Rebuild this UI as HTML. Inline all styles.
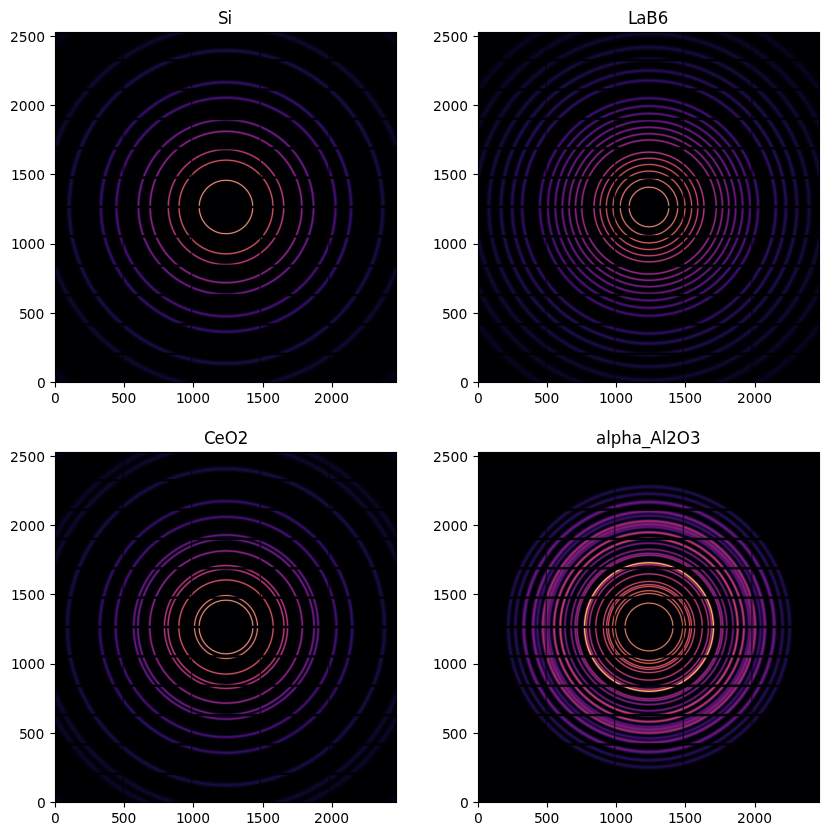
<!DOCTYPE html>
<html lang="en"><head><meta charset="utf-8"><title>Calibrant rings</title>
<style>html,body{margin:0;padding:0;background:#fff}svg{display:block}text{font-family:"DejaVu Sans","Liberation Sans",sans-serif;font-size:13.8889px;fill:#000}</style></head><body>
<svg width="828" height="836" viewBox="0 0 828 836">
<defs>
<radialGradient id="g0" gradientUnits="userSpaceOnUse" cx="0" cy="0" r="1800" gradientTransform="translate(226 207) scale(0.138855 0.138504)">
<stop offset="0" stop-color="#000003"/>
<stop offset=".1" stop-color="#000003"/>
<stop offset=".10083" stop-color="#010006"/>
<stop offset=".10153" stop-color="#04010b"/>
<stop offset=".10194" stop-color="#090311"/>
<stop offset=".10236" stop-color="#100517"/>
<stop offset=".10278" stop-color="#1b091e"/>
<stop offset=".10319" stop-color="#290f25"/>
<stop offset=".10361" stop-color="#3b192d"/>
<stop offset=".10403" stop-color="#502635"/>
<stop offset=".10444" stop-color="#66373d"/>
<stop offset=".10514" stop-color="#8e5748"/>
<stop offset=".10556" stop-color="#a56a4d"/>
<stop offset=".10597" stop-color="#b87b51"/>
<stop offset=".10625" stop-color="#c38552"/>
<stop offset=".10653" stop-color="#cb8c54"/>
<stop offset=".10681" stop-color="#d09054"/>
<stop offset=".10708" stop-color="#d29255"/>
<stop offset=".10736" stop-color="#d19154"/>
<stop offset=".10764" stop-color="#cc8d54"/>
<stop offset=".10792" stop-color="#c58753"/>
<stop offset=".10819" stop-color="#bb7e51"/>
<stop offset=".10861" stop-color="#a86d4e"/>
<stop offset=".10917" stop-color="#8a5448"/>
<stop offset=".10986" stop-color="#63343c"/>
<stop offset=".11028" stop-color="#4c2434"/>
<stop offset=".11069" stop-color="#38172c"/>
<stop offset=".11111" stop-color="#260e24"/>
<stop offset=".11153" stop-color="#19081d"/>
<stop offset=".11194" stop-color="#0f0416"/>
<stop offset=".11236" stop-color="#080210"/>
<stop offset=".11292" stop-color="#030109"/>
<stop offset=".11361" stop-color="#010005"/>
<stop offset=".11472" stop-color="#000003"/>
<stop offset=".17972" stop-color="#000003"/>
<stop offset=".18083" stop-color="#010005"/>
<stop offset=".18153" stop-color="#020109"/>
<stop offset=".18208" stop-color="#06020f"/>
<stop offset=".18264" stop-color="#0c0418"/>
<stop offset=".18306" stop-color="#140620"/>
<stop offset=".18347" stop-color="#1f0928"/>
<stop offset=".18389" stop-color="#2d0d30"/>
<stop offset=".18431" stop-color="#3f1337"/>
<stop offset=".18486" stop-color="#5a1e3d"/>
<stop offset=".18528" stop-color="#702840"/>
<stop offset=".18583" stop-color="#8d373f"/>
<stop offset=".18625" stop-color="#a2423d"/>
<stop offset=".18667" stop-color="#b44b3a"/>
<stop offset=".18694" stop-color="#be5037"/>
<stop offset=".18722" stop-color="#c65536"/>
<stop offset=".1875" stop-color="#ca5735"/>
<stop offset=".18778" stop-color="#cd5834"/>
<stop offset=".18806" stop-color="#cc5834"/>
<stop offset=".18833" stop-color="#c95635"/>
<stop offset=".18861" stop-color="#c35337"/>
<stop offset=".18889" stop-color="#ba4f38"/>
<stop offset=".18931" stop-color="#aa463c"/>
<stop offset=".18972" stop-color="#963c3f"/>
<stop offset=".19028" stop-color="#792d40"/>
<stop offset=".19069" stop-color="#63233f"/>
<stop offset=".19111" stop-color="#4d193c"/>
<stop offset=".19153" stop-color="#3a1236"/>
<stop offset=".19194" stop-color="#2a0c2f"/>
<stop offset=".19236" stop-color="#1d0827"/>
<stop offset=".19278" stop-color="#12051e"/>
<stop offset=".19319" stop-color="#0b0317"/>
<stop offset=".19375" stop-color="#05020e"/>
<stop offset=".19444" stop-color="#010108"/>
<stop offset=".19528" stop-color="#000004"/>
<stop offset=".19694" stop-color="#000003"/>
<stop offset=".2225" stop-color="#000003"/>
<stop offset=".22361" stop-color="#010006"/>
<stop offset=".22431" stop-color="#03010b"/>
<stop offset=".225" stop-color="#070313"/>
<stop offset=".22556" stop-color="#0f041d"/>
<stop offset=".22597" stop-color="#170626"/>
<stop offset=".22639" stop-color="#21092f"/>
<stop offset=".22681" stop-color="#2e0c38"/>
<stop offset=".22722" stop-color="#3e1140"/>
<stop offset=".22778" stop-color="#561848"/>
<stop offset=".22833" stop-color="#6f214d"/>
<stop offset=".22889" stop-color="#892a4f"/>
<stop offset=".22931" stop-color="#9b314f"/>
<stop offset=".22972" stop-color="#a9374d"/>
<stop offset=".23014" stop-color="#b43b4c"/>
<stop offset=".23042" stop-color="#b93d4b"/>
<stop offset=".23069" stop-color="#bb3e4b"/>
<stop offset=".23097" stop-color="#bb3e4b"/>
<stop offset=".23125" stop-color="#b93d4b"/>
<stop offset=".23153" stop-color="#b43b4c"/>
<stop offset=".23194" stop-color="#aa374e"/>
<stop offset=".23236" stop-color="#9b314f"/>
<stop offset=".23292" stop-color="#84284f"/>
<stop offset=".23347" stop-color="#6a1f4d"/>
<stop offset=".23403" stop-color="#501747"/>
<stop offset=".23458" stop-color="#39103e"/>
<stop offset=".235" stop-color="#2a0b36"/>
<stop offset=".23542" stop-color="#1e082d"/>
<stop offset=".23583" stop-color="#140624"/>
<stop offset=".23625" stop-color="#0d041b"/>
<stop offset=".23681" stop-color="#070212"/>
<stop offset=".2375" stop-color="#02010a"/>
<stop offset=".23819" stop-color="#010006"/>
<stop offset=".23931" stop-color="#000003"/>
<stop offset=".29375" stop-color="#000003"/>
<stop offset=".29486" stop-color="#000005"/>
<stop offset=".29583" stop-color="#010109"/>
<stop offset=".29653" stop-color="#04020e"/>
<stop offset=".29722" stop-color="#080318"/>
<stop offset=".29792" stop-color="#100524"/>
<stop offset=".29847" stop-color="#1a0730"/>
<stop offset=".29903" stop-color="#260a3d"/>
<stop offset=".29972" stop-color="#390e4c"/>
<stop offset=".30042" stop-color="#4f1358"/>
<stop offset=".30111" stop-color="#661860"/>
<stop offset=".30181" stop-color="#791e64"/>
<stop offset=".30222" stop-color="#832065"/>
<stop offset=".30264" stop-color="#8a2365"/>
<stop offset=".30306" stop-color="#8e2465"/>
<stop offset=".30347" stop-color="#902465"/>
<stop offset=".30389" stop-color="#8e2465"/>
<stop offset=".30431" stop-color="#892265"/>
<stop offset=".30472" stop-color="#822065"/>
<stop offset=".30528" stop-color="#741c63"/>
<stop offset=".30597" stop-color="#5f175e"/>
<stop offset=".30667" stop-color="#491155"/>
<stop offset=".30736" stop-color="#340d48"/>
<stop offset=".30806" stop-color="#220939"/>
<stop offset=".30861" stop-color="#17072d"/>
<stop offset=".30917" stop-color="#0e0521"/>
<stop offset=".30986" stop-color="#070316"/>
<stop offset=".31056" stop-color="#03020d"/>
<stop offset=".31125" stop-color="#010108"/>
<stop offset=".31222" stop-color="#000004"/>
<stop offset=".31389" stop-color="#000003"/>
<stop offset=".34" stop-color="#000004"/>
<stop offset=".34111" stop-color="#000005"/>
<stop offset=".34208" stop-color="#010109"/>
<stop offset=".34292" stop-color="#040210"/>
<stop offset=".34361" stop-color="#080419"/>
<stop offset=".34431" stop-color="#0f0525"/>
<stop offset=".345" stop-color="#180733"/>
<stop offset=".34569" stop-color="#250942"/>
<stop offset=".34667" stop-color="#3b0d55"/>
<stop offset=".34736" stop-color="#4c115f"/>
<stop offset=".34806" stop-color="#5c1466"/>
<stop offset=".34875" stop-color="#69176a"/>
<stop offset=".34931" stop-color="#70196b"/>
<stop offset=".34986" stop-color="#741b6c"/>
<stop offset=".35042" stop-color="#751b6c"/>
<stop offset=".35097" stop-color="#711a6b"/>
<stop offset=".35153" stop-color="#6b186a"/>
<stop offset=".35222" stop-color="#5e1567"/>
<stop offset=".35292" stop-color="#4f1161"/>
<stop offset=".35361" stop-color="#3e0e57"/>
<stop offset=".35444" stop-color="#2b0b48"/>
<stop offset=".35528" stop-color="#1b0836"/>
<stop offset=".35597" stop-color="#110628"/>
<stop offset=".35667" stop-color="#09041c"/>
<stop offset=".35736" stop-color="#050312"/>
<stop offset=".35819" stop-color="#02010b"/>
<stop offset=".35917" stop-color="#010006"/>
<stop offset=".36028" stop-color="#000004"/>
<stop offset=".36583" stop-color="#000003"/>
<stop offset=".42583" stop-color="#000003"/>
<stop offset=".4275" stop-color="#000005"/>
<stop offset=".42861" stop-color="#010108"/>
<stop offset=".42972" stop-color="#03020f"/>
<stop offset=".43069" stop-color="#060417"/>
<stop offset=".43167" stop-color="#0c0624"/>
<stop offset=".43278" stop-color="#160835"/>
<stop offset=".43389" stop-color="#240a48"/>
<stop offset=".435" stop-color="#330a58"/>
<stop offset=".43583" stop-color="#3d0b61"/>
<stop offset=".43667" stop-color="#460c67"/>
<stop offset=".4375" stop-color="#4b0c6a"/>
<stop offset=".43833" stop-color="#4d0c6b"/>
<stop offset=".43917" stop-color="#4b0c6a"/>
<stop offset=".44" stop-color="#450c66"/>
<stop offset=".44083" stop-color="#3c0b60"/>
<stop offset=".44181" stop-color="#300a55"/>
<stop offset=".44292" stop-color="#210945"/>
<stop offset=".44403" stop-color="#140832"/>
<stop offset=".44514" stop-color="#0b0622"/>
<stop offset=".44611" stop-color="#060316"/>
<stop offset=".44708" stop-color="#03020e"/>
<stop offset=".44819" stop-color="#010108"/>
<stop offset=".44931" stop-color="#000005"/>
<stop offset=".45153" stop-color="#000003"/>
<stop offset=".48653" stop-color="#000003"/>
<stop offset=".48875" stop-color="#000006"/>
<stop offset=".48986" stop-color="#01010a"/>
<stop offset=".49097" stop-color="#03020f"/>
<stop offset=".49208" stop-color="#060417"/>
<stop offset=".49319" stop-color="#0a0622"/>
<stop offset=".49431" stop-color="#11082f"/>
<stop offset=".49597" stop-color="#1f0a45"/>
<stop offset=".49708" stop-color="#280a51"/>
<stop offset=".49819" stop-color="#300a5a"/>
<stop offset=".49917" stop-color="#35095f"/>
<stop offset=".50014" stop-color="#370961"/>
<stop offset=".50111" stop-color="#360960"/>
<stop offset=".50222" stop-color="#310a5b"/>
<stop offset=".50333" stop-color="#2a0a53"/>
<stop offset=".50444" stop-color="#200a47"/>
<stop offset=".50611" stop-color="#130932"/>
<stop offset=".50722" stop-color="#0c0725"/>
<stop offset=".50833" stop-color="#07041a"/>
<stop offset=".50944" stop-color="#030211"/>
<stop offset=".51056" stop-color="#02010b"/>
<stop offset=".51167" stop-color="#010007"/>
<stop offset=".51333" stop-color="#000004"/>
<stop offset=".51722" stop-color="#000003"/>
<stop offset=".61" stop-color="#000003"/>
<stop offset=".61278" stop-color="#000005"/>
<stop offset=".615" stop-color="#01010a"/>
<stop offset=".61722" stop-color="#030212"/>
<stop offset=".62" stop-color="#090620"/>
<stop offset=".62333" stop-color="#130a33"/>
<stop offset=".625" stop-color="#170b3a"/>
<stop offset=".62667" stop-color="#190b3e"/>
<stop offset=".62778" stop-color="#190b3f"/>
<stop offset=".62944" stop-color="#180b3c"/>
<stop offset=".63111" stop-color="#140a36"/>
<stop offset=".63611" stop-color="#06041a"/>
<stop offset=".63833" stop-color="#030210"/>
<stop offset=".64056" stop-color="#010109"/>
<stop offset=".64278" stop-color="#000005"/>
<stop offset=".64667" stop-color="#000003"/>
<stop offset=".705" stop-color="#000003"/>
<stop offset=".70944" stop-color="#010007"/>
<stop offset=".71222" stop-color="#02010c"/>
<stop offset=".71667" stop-color="#050419"/>
<stop offset=".72111" stop-color="#0c0726"/>
<stop offset=".72389" stop-color="#0e082b"/>
<stop offset=".72611" stop-color="#0e082b"/>
<stop offset=".72833" stop-color="#0d0828"/>
<stop offset=".73167" stop-color="#080620"/>
<stop offset=".73722" stop-color="#02020f"/>
<stop offset=".74" stop-color="#010109"/>
<stop offset=".74389" stop-color="#000005"/>
<stop offset=".74889" stop-color="#000003"/>
<stop offset=".92111" stop-color="#000003"/>
<stop offset=".93" stop-color="#010007"/>
<stop offset=".93556" stop-color="#01010c"/>
<stop offset=".94167" stop-color="#030212"/>
<stop offset=".94667" stop-color="#040314"/>
<stop offset=".95389" stop-color="#040314"/>
<stop offset=".96111" stop-color="#02010e"/>
<stop offset=".96833" stop-color="#010007"/>
<stop offset=".97833" stop-color="#000004"/>
<stop offset="1" stop-color="#000003"/>
</radialGradient>
<radialGradient id="g1" gradientUnits="userSpaceOnUse" cx="0" cy="0" r="1800" gradientTransform="translate(649 207) scale(0.138855 0.138504)">
<stop offset="0" stop-color="#000003"/>
<stop offset=".07222" stop-color="#000003"/>
<stop offset=".07319" stop-color="#010005"/>
<stop offset=".07389" stop-color="#04010a"/>
<stop offset=".07431" stop-color="#08020f"/>
<stop offset=".07472" stop-color="#0f0415"/>
<stop offset=".07514" stop-color="#19081c"/>
<stop offset=".07556" stop-color="#270f23"/>
<stop offset=".07597" stop-color="#39192b"/>
<stop offset=".07639" stop-color="#4d2633"/>
<stop offset=".07681" stop-color="#64373c"/>
<stop offset=".0775" stop-color="#8c5647"/>
<stop offset=".07792" stop-color="#a2694c"/>
<stop offset=".07833" stop-color="#b67950"/>
<stop offset=".07861" stop-color="#c08252"/>
<stop offset=".07889" stop-color="#c78853"/>
<stop offset=".07917" stop-color="#cc8c54"/>
<stop offset=".07944" stop-color="#cd8d54"/>
<stop offset=".07972" stop-color="#cb8b54"/>
<stop offset=".08" stop-color="#c68753"/>
<stop offset=".08028" stop-color="#be8051"/>
<stop offset=".08056" stop-color="#b47750"/>
<stop offset=".08097" stop-color="#a0674c"/>
<stop offset=".08153" stop-color="#814d44"/>
<stop offset=".08208" stop-color="#61343b"/>
<stop offset=".0825" stop-color="#4b2433"/>
<stop offset=".08292" stop-color="#36172a"/>
<stop offset=".08333" stop-color="#250e23"/>
<stop offset=".08375" stop-color="#18081b"/>
<stop offset=".08417" stop-color="#0e0415"/>
<stop offset=".08458" stop-color="#07020f"/>
<stop offset=".08514" stop-color="#030109"/>
<stop offset=".08583" stop-color="#000005"/>
<stop offset=".08694" stop-color="#000003"/>
<stop offset=".1075" stop-color="#000003"/>
<stop offset=".10847" stop-color="#010005"/>
<stop offset=".10917" stop-color="#03010a"/>
<stop offset=".10972" stop-color="#080210"/>
<stop offset=".11014" stop-color="#0f0417"/>
<stop offset=".11056" stop-color="#19081e"/>
<stop offset=".11097" stop-color="#260d25"/>
<stop offset=".11139" stop-color="#37152c"/>
<stop offset=".11181" stop-color="#4b2032"/>
<stop offset=".11222" stop-color="#622e37"/>
<stop offset=".11278" stop-color="#81433b"/>
<stop offset=".11333" stop-color="#a0593c"/>
<stop offset=".11375" stop-color="#b3673c"/>
<stop offset=".11403" stop-color="#be6f3c"/>
<stop offset=".11431" stop-color="#c6753c"/>
<stop offset=".11458" stop-color="#cb793b"/>
<stop offset=".11486" stop-color="#ce7b3b"/>
<stop offset=".11514" stop-color="#cd7a3b"/>
<stop offset=".11542" stop-color="#c9773c"/>
<stop offset=".11569" stop-color="#c2723c"/>
<stop offset=".11597" stop-color="#b86b3c"/>
<stop offset=".11639" stop-color="#a65d3d"/>
<stop offset=".11694" stop-color="#88483c"/>
<stop offset=".1175" stop-color="#683238"/>
<stop offset=".11792" stop-color="#522434"/>
<stop offset=".11833" stop-color="#3d182e"/>
<stop offset=".11875" stop-color="#2b0f27"/>
<stop offset=".11917" stop-color="#1c0920"/>
<stop offset=".11958" stop-color="#110519"/>
<stop offset=".12" stop-color="#0a0312"/>
<stop offset=".12042" stop-color="#05020d"/>
<stop offset=".12111" stop-color="#010107"/>
<stop offset=".12194" stop-color="#000004"/>
<stop offset=".12694" stop-color="#000003"/>
<stop offset=".13639" stop-color="#000003"/>
<stop offset=".1375" stop-color="#010005"/>
<stop offset=".13819" stop-color="#03010a"/>
<stop offset=".13875" stop-color="#070210"/>
<stop offset=".13917" stop-color="#0d0417"/>
<stop offset=".13958" stop-color="#16061e"/>
<stop offset=".14" stop-color="#220a26"/>
<stop offset=".14042" stop-color="#32102d"/>
<stop offset=".14083" stop-color="#441932"/>
<stop offset=".14139" stop-color="#612738"/>
<stop offset=".14194" stop-color="#803939"/>
<stop offset=".1425" stop-color="#9f4b37"/>
<stop offset=".14292" stop-color="#b25735"/>
<stop offset=".14319" stop-color="#bd5d33"/>
<stop offset=".14347" stop-color="#c56232"/>
<stop offset=".14375" stop-color="#ca6631"/>
<stop offset=".14403" stop-color="#cd6731"/>
<stop offset=".14431" stop-color="#cd6731"/>
<stop offset=".14458" stop-color="#c96531"/>
<stop offset=".14486" stop-color="#c36133"/>
<stop offset=".14514" stop-color="#ba5b34"/>
<stop offset=".14556" stop-color="#a85036"/>
<stop offset=".14597" stop-color="#934438"/>
<stop offset=".14653" stop-color="#743239"/>
<stop offset=".14708" stop-color="#552136"/>
<stop offset=".1475" stop-color="#411732"/>
<stop offset=".14792" stop-color="#2e0f2c"/>
<stop offset=".14833" stop-color="#1f0924"/>
<stop offset=".14875" stop-color="#14061d"/>
<stop offset=".14917" stop-color="#0c0315"/>
<stop offset=".14958" stop-color="#06020f"/>
<stop offset=".15014" stop-color="#020109"/>
<stop offset=".15083" stop-color="#010005"/>
<stop offset=".15194" stop-color="#000003"/>
<stop offset=".16306" stop-color="#000004"/>
<stop offset=".16389" stop-color="#010006"/>
<stop offset=".16458" stop-color="#03010b"/>
<stop offset=".16514" stop-color="#080212"/>
<stop offset=".16556" stop-color="#0e0419"/>
<stop offset=".16597" stop-color="#160620"/>
<stop offset=".16639" stop-color="#220a29"/>
<stop offset=".16681" stop-color="#310f30"/>
<stop offset=".16722" stop-color="#431637"/>
<stop offset=".16778" stop-color="#5f223c"/>
<stop offset=".16833" stop-color="#7d303e"/>
<stop offset=".16889" stop-color="#9a3e3d"/>
<stop offset=".16931" stop-color="#ad473a"/>
<stop offset=".16958" stop-color="#b74d39"/>
<stop offset=".16986" stop-color="#c05137"/>
<stop offset=".17014" stop-color="#c55436"/>
<stop offset=".17042" stop-color="#c85636"/>
<stop offset=".17069" stop-color="#c85636"/>
<stop offset=".17097" stop-color="#c65436"/>
<stop offset=".17125" stop-color="#c05137"/>
<stop offset=".17153" stop-color="#b84d39"/>
<stop offset=".17194" stop-color="#a8453b"/>
<stop offset=".17236" stop-color="#943b3e"/>
<stop offset=".17292" stop-color="#772c3f"/>
<stop offset=".17347" stop-color="#591f3c"/>
<stop offset=".17403" stop-color="#3e1436"/>
<stop offset=".17444" stop-color="#2d0d2f"/>
<stop offset=".17486" stop-color="#1f0927"/>
<stop offset=".17528" stop-color="#14061f"/>
<stop offset=".17569" stop-color="#0c0317"/>
<stop offset=".17625" stop-color="#05020f"/>
<stop offset=".17681" stop-color="#020109"/>
<stop offset=".1775" stop-color="#000005"/>
<stop offset=".17861" stop-color="#000003"/>
<stop offset=".1875" stop-color="#000003"/>
<stop offset=".18861" stop-color="#010005"/>
<stop offset=".18931" stop-color="#020109"/>
<stop offset=".18986" stop-color="#060210"/>
<stop offset=".19042" stop-color="#0c0418"/>
<stop offset=".19083" stop-color="#130520"/>
<stop offset=".19125" stop-color="#1e0829"/>
<stop offset=".19167" stop-color="#2b0c31"/>
<stop offset=".19208" stop-color="#3b1139"/>
<stop offset=".19264" stop-color="#541a41"/>
<stop offset=".19319" stop-color="#702546"/>
<stop offset=".19375" stop-color="#8c3047"/>
<stop offset=".19417" stop-color="#9f3846"/>
<stop offset=".19458" stop-color="#af3f45"/>
<stop offset=".19486" stop-color="#b74244"/>
<stop offset=".19514" stop-color="#bc4543"/>
<stop offset=".19542" stop-color="#c04643"/>
<stop offset=".19569" stop-color="#c14743"/>
<stop offset=".19597" stop-color="#bf4643"/>
<stop offset=".19625" stop-color="#ba4444"/>
<stop offset=".19653" stop-color="#b34144"/>
<stop offset=".19694" stop-color="#a53a46"/>
<stop offset=".19736" stop-color="#933347"/>
<stop offset=".19792" stop-color="#782847"/>
<stop offset=".19847" stop-color="#5c1d43"/>
<stop offset=".19903" stop-color="#42133c"/>
<stop offset=".19944" stop-color="#310e35"/>
<stop offset=".19986" stop-color="#22092d"/>
<stop offset=".20028" stop-color="#170624"/>
<stop offset=".20069" stop-color="#0f041c"/>
<stop offset=".20125" stop-color="#070212"/>
<stop offset=".20181" stop-color="#03010b"/>
<stop offset=".2025" stop-color="#010006"/>
<stop offset=".20347" stop-color="#000004"/>
<stop offset=".21181" stop-color="#000003"/>
<stop offset=".21292" stop-color="#010006"/>
<stop offset=".21361" stop-color="#02010a"/>
<stop offset=".21431" stop-color="#070212"/>
<stop offset=".21486" stop-color="#0e041c"/>
<stop offset=".21528" stop-color="#150624"/>
<stop offset=".21569" stop-color="#20092d"/>
<stop offset=".21611" stop-color="#2c0c36"/>
<stop offset=".21653" stop-color="#3c103e"/>
<stop offset=".21708" stop-color="#531747"/>
<stop offset=".21764" stop-color="#6d204d"/>
<stop offset=".21819" stop-color="#862950"/>
<stop offset=".21861" stop-color="#972f50"/>
<stop offset=".21903" stop-color="#a5344f"/>
<stop offset=".21931" stop-color="#ad374f"/>
<stop offset=".21958" stop-color="#b2394e"/>
<stop offset=".21986" stop-color="#b53a4e"/>
<stop offset=".22014" stop-color="#b53a4e"/>
<stop offset=".22042" stop-color="#b4394e"/>
<stop offset=".22069" stop-color="#b0384f"/>
<stop offset=".22097" stop-color="#a9364f"/>
<stop offset=".22139" stop-color="#9d3150"/>
<stop offset=".22181" stop-color="#8c2b50"/>
<stop offset=".22236" stop-color="#74224f"/>
<stop offset=".22292" stop-color="#5a1a4a"/>
<stop offset=".22347" stop-color="#421242"/>
<stop offset=".22389" stop-color="#320d3a"/>
<stop offset=".22431" stop-color="#240a31"/>
<stop offset=".22472" stop-color="#190728"/>
<stop offset=".22514" stop-color="#10051f"/>
<stop offset=".22569" stop-color="#090315"/>
<stop offset=".22639" stop-color="#03010c"/>
<stop offset=".22708" stop-color="#010107"/>
<stop offset=".22806" stop-color="#000004"/>
<stop offset=".23306" stop-color="#000003"/>
<stop offset=".25972" stop-color="#000003"/>
<stop offset=".26083" stop-color="#000005"/>
<stop offset=".26167" stop-color="#010108"/>
<stop offset=".26236" stop-color="#04020e"/>
<stop offset=".26306" stop-color="#090318"/>
<stop offset=".26361" stop-color="#100522"/>
<stop offset=".26417" stop-color="#1a072e"/>
<stop offset=".26472" stop-color="#280a3b"/>
<stop offset=".26528" stop-color="#390e47"/>
<stop offset=".26597" stop-color="#511453"/>
<stop offset=".26653" stop-color="#661a5a"/>
<stop offset=".26722" stop-color="#7d205f"/>
<stop offset=".26764" stop-color="#892460"/>
<stop offset=".26806" stop-color="#922660"/>
<stop offset=".26847" stop-color="#982860"/>
<stop offset=".26889" stop-color="#9a2960"/>
<stop offset=".26931" stop-color="#982860"/>
<stop offset=".26972" stop-color="#922660"/>
<stop offset=".27014" stop-color="#892460"/>
<stop offset=".27056" stop-color="#7d205f"/>
<stop offset=".27125" stop-color="#661a5a"/>
<stop offset=".27181" stop-color="#521453"/>
<stop offset=".2725" stop-color="#390e47"/>
<stop offset=".27306" stop-color="#280a3b"/>
<stop offset=".27361" stop-color="#1b072f"/>
<stop offset=".27417" stop-color="#100523"/>
<stop offset=".27472" stop-color="#090318"/>
<stop offset=".27542" stop-color="#04020f"/>
<stop offset=".27611" stop-color="#010108"/>
<stop offset=".27694" stop-color="#000005"/>
<stop offset=".27861" stop-color="#000003"/>
<stop offset=".28472" stop-color="#000003"/>
<stop offset=".28583" stop-color="#000005"/>
<stop offset=".28667" stop-color="#02010a"/>
<stop offset=".28736" stop-color="#050210"/>
<stop offset=".28806" stop-color="#0a041b"/>
<stop offset=".28861" stop-color="#110525"/>
<stop offset=".28917" stop-color="#1b0831"/>
<stop offset=".28972" stop-color="#280a3e"/>
<stop offset=".29042" stop-color="#3b0e4d"/>
<stop offset=".29111" stop-color="#511358"/>
<stop offset=".29181" stop-color="#671960"/>
<stop offset=".29236" stop-color="#761d64"/>
<stop offset=".29278" stop-color="#7f1f65"/>
<stop offset=".29319" stop-color="#862166"/>
<stop offset=".29361" stop-color="#8a2266"/>
<stop offset=".29403" stop-color="#8b2266"/>
<stop offset=".29444" stop-color="#826"/>
<stop offset=".29486" stop-color="#832066"/>
<stop offset=".29528" stop-color="#7b1e65"/>
<stop offset=".29583" stop-color="#6d1a62"/>
<stop offset=".29653" stop-color="#58155c"/>
<stop offset=".29722" stop-color="#421051"/>
<stop offset=".29792" stop-color="#2e0b44"/>
<stop offset=".29861" stop-color="#1d0834"/>
<stop offset=".29917" stop-color="#130628"/>
<stop offset=".29986" stop-color="#0a041b"/>
<stop offset=".30056" stop-color="#050210"/>
<stop offset=".30125" stop-color="#02010a"/>
<stop offset=".30208" stop-color="#010006"/>
<stop offset=".30319" stop-color="#000004"/>
<stop offset=".30986" stop-color="#000003"/>
<stop offset=".31097" stop-color="#000005"/>
<stop offset=".31194" stop-color="#010108"/>
<stop offset=".31264" stop-color="#03020e"/>
<stop offset=".31333" stop-color="#070316"/>
<stop offset=".31403" stop-color="#0d0521"/>
<stop offset=".31472" stop-color="#170730"/>
<stop offset=".31542" stop-color="#250a3f"/>
<stop offset=".31625" stop-color="#3a0e50"/>
<stop offset=".31694" stop-color="#4d115c"/>
<stop offset=".31764" stop-color="#5f1664"/>
<stop offset=".31819" stop-color="#6b1967"/>
<stop offset=".31875" stop-color="#751b69"/>
<stop offset=".31917" stop-color="#7a1d6a"/>
<stop offset=".31958" stop-color="#7c1d6a"/>
<stop offset=".32" stop-color="#7c1d6a"/>
<stop offset=".32042" stop-color="#791c6a"/>
<stop offset=".32097" stop-color="#721a69"/>
<stop offset=".32153" stop-color="#671766"/>
<stop offset=".32222" stop-color="#551360"/>
<stop offset=".32292" stop-color="#430f56"/>
<stop offset=".32375" stop-color="#2d0b47"/>
<stop offset=".32444" stop-color="#1e0838"/>
<stop offset=".32514" stop-color="#120629"/>
<stop offset=".32583" stop-color="#0a041c"/>
<stop offset=".32653" stop-color="#050212"/>
<stop offset=".32722" stop-color="#02010b"/>
<stop offset=".32806" stop-color="#010006"/>
<stop offset=".32917" stop-color="#000004"/>
<stop offset=".33361" stop-color="#000003"/>
<stop offset=".33694" stop-color="#000004"/>
<stop offset=".33806" stop-color="#010007"/>
<stop offset=".33903" stop-color="#02010c"/>
<stop offset=".33972" stop-color="#050313"/>
<stop offset=".34042" stop-color="#0a041d"/>
<stop offset=".34111" stop-color="#110629"/>
<stop offset=".34181" stop-color="#1c0838"/>
<stop offset=".34264" stop-color="#2c0b49"/>
<stop offset=".34347" stop-color="#3f0e58"/>
<stop offset=".34417" stop-color="#4f1162"/>
<stop offset=".34486" stop-color="#5d1468"/>
<stop offset=".34542" stop-color="#66166b"/>
<stop offset=".34597" stop-color="#6c186c"/>
<stop offset=".34653" stop-color="#6e186d"/>
<stop offset=".34708" stop-color="#6d186c"/>
<stop offset=".34764" stop-color="#68166b"/>
<stop offset=".34819" stop-color="#601569"/>
<stop offset=".34889" stop-color="#531264"/>
<stop offset=".34958" stop-color="#430f5b"/>
<stop offset=".35042" stop-color="#310b4d"/>
<stop offset=".35125" stop-color="#20093c"/>
<stop offset=".35194" stop-color="#14072e"/>
<stop offset=".35264" stop-color="#0c0521"/>
<stop offset=".35333" stop-color="#060316"/>
<stop offset=".35403" stop-color="#03020e"/>
<stop offset=".35486" stop-color="#010108"/>
<stop offset=".35597" stop-color="#000005"/>
<stop offset=".35764" stop-color="#000003"/>
<stop offset=".36431" stop-color="#000004"/>
<stop offset=".36542" stop-color="#000005"/>
<stop offset=".36653" stop-color="#02010a"/>
<stop offset=".36736" stop-color="#040210"/>
<stop offset=".36819" stop-color="#08041a"/>
<stop offset=".36903" stop-color="#100628"/>
<stop offset=".36986" stop-color="#1a0838"/>
<stop offset=".37083" stop-color="#2b0a4b"/>
<stop offset=".37167" stop-color="#3b0c59"/>
<stop offset=".37236" stop-color="#480e62"/>
<stop offset=".37306" stop-color="#531068"/>
<stop offset=".37375" stop-color="#5b126c"/>
<stop offset=".37431" stop-color="#5f136d"/>
<stop offset=".37486" stop-color="#60136d"/>
<stop offset=".37542" stop-color="#5e136d"/>
<stop offset=".37611" stop-color="#58116a"/>
<stop offset=".37681" stop-color="#4f1066"/>
<stop offset=".3775" stop-color="#430e5f"/>
<stop offset=".37833" stop-color="#330b53"/>
<stop offset=".37944" stop-color="#1f093f"/>
<stop offset=".38028" stop-color="#13072f"/>
<stop offset=".38111" stop-color="#0b0520"/>
<stop offset=".38194" stop-color="#050315"/>
<stop offset=".38278" stop-color="#02020d"/>
<stop offset=".38375" stop-color="#010107"/>
<stop offset=".38486" stop-color="#000004"/>
<stop offset=".38708" stop-color="#000003"/>
<stop offset=".39319" stop-color="#000003"/>
<stop offset=".39486" stop-color="#000006"/>
<stop offset=".39597" stop-color="#02010a"/>
<stop offset=".39694" stop-color="#040212"/>
<stop offset=".39778" stop-color="#08041b"/>
<stop offset=".39875" stop-color="#10062a"/>
<stop offset=".39972" stop-color="#1b083b"/>
<stop offset=".40083" stop-color="#2c0a4f"/>
<stop offset=".40167" stop-color="#390b5b"/>
<stop offset=".4025" stop-color="#450d64"/>
<stop offset=".40333" stop-color="#4e0e69"/>
<stop offset=".40403" stop-color="#520e6c"/>
<stop offset=".40472" stop-color="#530f6c"/>
<stop offset=".40542" stop-color="#510e6b"/>
<stop offset=".40611" stop-color="#4c0d68"/>
<stop offset=".40694" stop-color="#420c62"/>
<stop offset=".40778" stop-color="#360b58"/>
<stop offset=".40875" stop-color="#260a49"/>
<stop offset=".40986" stop-color="#170835"/>
<stop offset=".41083" stop-color="#0d0625"/>
<stop offset=".41181" stop-color="#060417"/>
<stop offset=".41278" stop-color="#03020e"/>
<stop offset=".41389" stop-color="#010108"/>
<stop offset=".415" stop-color="#000005"/>
<stop offset=".41722" stop-color="#000003"/>
<stop offset=".42444" stop-color="#000004"/>
<stop offset=".42611" stop-color="#000006"/>
<stop offset=".42722" stop-color="#01010a"/>
<stop offset=".42833" stop-color="#040212"/>
<stop offset=".42931" stop-color="#08041b"/>
<stop offset=".43042" stop-color="#10072b"/>
<stop offset=".43153" stop-color="#1b093d"/>
<stop offset=".43264" stop-color="#290a4e"/>
<stop offset=".43361" stop-color="#350a5b"/>
<stop offset=".43444" stop-color="#3e0b62"/>
<stop offset=".43528" stop-color="#440b67"/>
<stop offset=".43611" stop-color="#470b69"/>
<stop offset=".43694" stop-color="#460b68"/>
<stop offset=".43778" stop-color="#420b66"/>
<stop offset=".43875" stop-color="#390a5f"/>
<stop offset=".43972" stop-color="#2d0a54"/>
<stop offset=".44083" stop-color="#200943"/>
<stop offset=".44194" stop-color="#140832"/>
<stop offset=".44306" stop-color="#0b0621"/>
<stop offset=".44403" stop-color="#050316"/>
<stop offset=".44514" stop-color="#02020d"/>
<stop offset=".44625" stop-color="#010108"/>
<stop offset=".44736" stop-color="#000005"/>
<stop offset=".44958" stop-color="#000003"/>
<stop offset=".49347" stop-color="#000003"/>
<stop offset=".49569" stop-color="#000006"/>
<stop offset=".49736" stop-color="#02010c"/>
<stop offset=".49847" stop-color="#030212"/>
<stop offset=".49958" stop-color="#07041a"/>
<stop offset=".50069" stop-color="#0c0725"/>
<stop offset=".50236" stop-color="#160a38"/>
<stop offset=".50403" stop-color="#230b4b"/>
<stop offset=".50514" stop-color="#2a0a54"/>
<stop offset=".50625" stop-color="#2f0a5a"/>
<stop offset=".50736" stop-color="#300a5b"/>
<stop offset=".50847" stop-color="#2e0a59"/>
<stop offset=".50958" stop-color="#290a53"/>
<stop offset=".51069" stop-color="#210b49"/>
<stop offset=".51292" stop-color="#120930"/>
<stop offset=".51458" stop-color="#09051f"/>
<stop offset=".51569" stop-color="#050316"/>
<stop offset=".51681" stop-color="#02020e"/>
<stop offset=".51792" stop-color="#01010a"/>
<stop offset=".51958" stop-color="#000005"/>
<stop offset=".52236" stop-color="#000003"/>
<stop offset=".53292" stop-color="#000004"/>
<stop offset=".53514" stop-color="#000006"/>
<stop offset=".53681" stop-color="#01010b"/>
<stop offset=".53847" stop-color="#040313"/>
<stop offset=".54014" stop-color="#09051f"/>
<stop offset=".54236" stop-color="#130933"/>
<stop offset=".54403" stop-color="#1c0b42"/>
<stop offset=".54514" stop-color="#210b49"/>
<stop offset=".54625" stop-color="#240b4e"/>
<stop offset=".54736" stop-color="#250b50"/>
<stop offset=".54847" stop-color="#240b4e"/>
<stop offset=".54958" stop-color="#210b4a"/>
<stop offset=".55069" stop-color="#1c0b43"/>
<stop offset=".55292" stop-color="#110930"/>
<stop offset=".55514" stop-color="#08051d"/>
<stop offset=".55681" stop-color="#030212"/>
<stop offset=".55847" stop-color="#01010b"/>
<stop offset=".56014" stop-color="#000006"/>
<stop offset=".56236" stop-color="#000004"/>
<stop offset=".57347" stop-color="#000003"/>
<stop offset=".57681" stop-color="#000004"/>
<stop offset=".57903" stop-color="#010008"/>
<stop offset=".58069" stop-color="#02010d"/>
<stop offset=".58236" stop-color="#040314"/>
<stop offset=".58458" stop-color="#0a0622"/>
<stop offset=".58792" stop-color="#150a38"/>
<stop offset=".58958" stop-color="#1a0b40"/>
<stop offset=".59069" stop-color="#1c0c43"/>
<stop offset=".59181" stop-color="#1c0c43"/>
<stop offset=".59292" stop-color="#1b0c42"/>
<stop offset=".59403" stop-color="#190b3e"/>
<stop offset=".59569" stop-color="#140a35"/>
<stop offset=".59903" stop-color="#08061f"/>
<stop offset=".60125" stop-color="#030313"/>
<stop offset=".60292" stop-color="#02010c"/>
<stop offset=".60514" stop-color="#000006"/>
<stop offset=".60792" stop-color="#000004"/>
<stop offset=".62236" stop-color="#000003"/>
<stop offset=".62569" stop-color="#000006"/>
<stop offset=".62792" stop-color="#01010a"/>
<stop offset=".63014" stop-color="#030211"/>
<stop offset=".63292" stop-color="#07051d"/>
<stop offset=".63681" stop-color="#110930"/>
<stop offset=".63847" stop-color="#140a35"/>
<stop offset=".64014" stop-color="#150b38"/>
<stop offset=".64181" stop-color="#140b36"/>
<stop offset=".64347" stop-color="#120a32"/>
<stop offset=".64625" stop-color="#0c0726"/>
<stop offset=".64958" stop-color="#050317"/>
<stop offset=".65236" stop-color="#02010c"/>
<stop offset=".65458" stop-color="#010007"/>
<stop offset=".65792" stop-color="#000004"/>
<stop offset=".66736" stop-color="#000003"/>
<stop offset=".67625" stop-color="#000004"/>
<stop offset=".68014" stop-color="#010007"/>
<stop offset=".68292" stop-color="#02010c"/>
<stop offset=".68736" stop-color="#06041b"/>
<stop offset=".69125" stop-color="#0c0827"/>
<stop offset=".69347" stop-color="#0e092c"/>
<stop offset=".69569" stop-color="#0f092d"/>
<stop offset=".69792" stop-color="#0e082a"/>
<stop offset=".70069" stop-color="#0a0623"/>
<stop offset=".70569" stop-color="#030212"/>
<stop offset=".70903" stop-color="#010109"/>
<stop offset=".71236" stop-color="#000005"/>
<stop offset=".71681" stop-color="#000003"/>
<stop offset=".73625" stop-color="#000004"/>
<stop offset=".74125" stop-color="#010007"/>
<stop offset=".74458" stop-color="#02010d"/>
<stop offset=".75236" stop-color="#08061f"/>
<stop offset=".75514" stop-color="#0a0722"/>
<stop offset=".75847" stop-color="#0a0723"/>
<stop offset=".76125" stop-color="#080620"/>
<stop offset=".76569" stop-color="#040316"/>
<stop offset=".77125" stop-color="#01010a"/>
<stop offset=".77514" stop-color="#000006"/>
<stop offset=".78069" stop-color="#000003"/>
<stop offset=".80458" stop-color="#000003"/>
<stop offset=".81125" stop-color="#010008"/>
<stop offset=".81514" stop-color="#02010d"/>
<stop offset=".82347" stop-color="#06041a"/>
<stop offset=".82681" stop-color="#07051d"/>
<stop offset=".83014" stop-color="#07051c"/>
<stop offset=".83514" stop-color="#040316"/>
<stop offset=".84347" stop-color="#010109"/>
<stop offset=".84958" stop-color="#000004"/>
<stop offset=".85681" stop-color="#000003"/>
<stop offset=".97681" stop-color="#000003"/>
<stop offset=".98792" stop-color="#010007"/>
<stop offset=".99958" stop-color="#02020f"/>
<stop offset="1" stop-color="#020210"/>
</radialGradient>
<radialGradient id="g2" gradientUnits="userSpaceOnUse" cx="0" cy="0" r="1800" gradientTransform="translate(226 627) scale(0.138855 0.138504)">
<stop offset="0" stop-color="#000003"/>
<stop offset=".1" stop-color="#000003"/>
<stop offset=".10097" stop-color="#000005"/>
<stop offset=".10167" stop-color="#020109"/>
<stop offset=".10222" stop-color="#07020f"/>
<stop offset=".10264" stop-color="#0d0415"/>
<stop offset=".10306" stop-color="#17071c"/>
<stop offset=".10347" stop-color="#240d23"/>
<stop offset=".10389" stop-color="#34152a"/>
<stop offset=".10431" stop-color="#482133"/>
<stop offset=".10472" stop-color="#5f313b"/>
<stop offset=".10528" stop-color="#7e4a44"/>
<stop offset=".10583" stop-color="#9e644c"/>
<stop offset=".10625" stop-color="#b27650"/>
<stop offset=".10653" stop-color="#be8052"/>
<stop offset=".10681" stop-color="#c78853"/>
<stop offset=".10708" stop-color="#ce8e54"/>
<stop offset=".10736" stop-color="#d19155"/>
<stop offset=".10764" stop-color="#d29255"/>
<stop offset=".10792" stop-color="#cf8f54"/>
<stop offset=".10819" stop-color="#c98a53"/>
<stop offset=".10847" stop-color="#c18352"/>
<stop offset=".10875" stop-color="#b67950"/>
<stop offset=".10917" stop-color="#a1674d"/>
<stop offset=".10986" stop-color="#7b4743"/>
<stop offset=".11042" stop-color="#5b2e39"/>
<stop offset=".11083" stop-color="#451f31"/>
<stop offset=".11125" stop-color="#321429"/>
<stop offset=".11167" stop-color="#220c22"/>
<stop offset=".11208" stop-color="#15071b"/>
<stop offset=".1125" stop-color="#0c0414"/>
<stop offset=".11292" stop-color="#06020e"/>
<stop offset=".11347" stop-color="#020108"/>
<stop offset=".11417" stop-color="#000005"/>
<stop offset=".11528" stop-color="#000003"/>
<stop offset=".11861" stop-color="#000003"/>
<stop offset=".11944" stop-color="#010006"/>
<stop offset=".12014" stop-color="#04010b"/>
<stop offset=".12056" stop-color="#070210"/>
<stop offset=".12097" stop-color="#0e0416"/>
<stop offset=".12139" stop-color="#17071d"/>
<stop offset=".12181" stop-color="#240c24"/>
<stop offset=".12222" stop-color="#35142c"/>
<stop offset=".12264" stop-color="#491f32"/>
<stop offset=".12306" stop-color="#5f2d39"/>
<stop offset=".12361" stop-color="#7e443f"/>
<stop offset=".12417" stop-color="#9d5c42"/>
<stop offset=".12458" stop-color="#b16d43"/>
<stop offset=".12486" stop-color="#bd7643"/>
<stop offset=".12514" stop-color="#c67e43"/>
<stop offset=".12542" stop-color="#cd8343"/>
<stop offset=".12569" stop-color="#d08643"/>
<stop offset=".12597" stop-color="#d18743"/>
<stop offset=".12625" stop-color="#cf8543"/>
<stop offset=".12653" stop-color="#c98043"/>
<stop offset=".12681" stop-color="#c17a43"/>
<stop offset=".12708" stop-color="#b77143"/>
<stop offset=".1275" stop-color="#a36143"/>
<stop offset=".12806" stop-color="#854940"/>
<stop offset=".12861" stop-color="#66323a"/>
<stop offset=".12903" stop-color="#4f2335"/>
<stop offset=".12944" stop-color="#3b172e"/>
<stop offset=".12986" stop-color="#290e27"/>
<stop offset=".13028" stop-color="#1b0920"/>
<stop offset=".13069" stop-color="#100518"/>
<stop offset=".13111" stop-color="#090312"/>
<stop offset=".13167" stop-color="#04010b"/>
<stop offset=".13236" stop-color="#010006"/>
<stop offset=".13333" stop-color="#000003"/>
<stop offset=".18056" stop-color="#000003"/>
<stop offset=".18167" stop-color="#010005"/>
<stop offset=".18236" stop-color="#020109"/>
<stop offset=".18292" stop-color="#06020f"/>
<stop offset=".18347" stop-color="#0c0418"/>
<stop offset=".18389" stop-color="#140620"/>
<stop offset=".18431" stop-color="#1f0928"/>
<stop offset=".18472" stop-color="#2d0d30"/>
<stop offset=".18514" stop-color="#3f1337"/>
<stop offset=".18569" stop-color="#591e3e"/>
<stop offset=".18611" stop-color="#6f2840"/>
<stop offset=".18667" stop-color="#8d373f"/>
<stop offset=".18708" stop-color="#a2413d"/>
<stop offset=".1875" stop-color="#b44b3a"/>
<stop offset=".18778" stop-color="#be5038"/>
<stop offset=".18806" stop-color="#c55436"/>
<stop offset=".18833" stop-color="#ca5735"/>
<stop offset=".18861" stop-color="#cd5834"/>
<stop offset=".18889" stop-color="#cc5834"/>
<stop offset=".18917" stop-color="#c95635"/>
<stop offset=".18944" stop-color="#c35336"/>
<stop offset=".18972" stop-color="#bb4e38"/>
<stop offset=".19014" stop-color="#ab463c"/>
<stop offset=".19056" stop-color="#973c3f"/>
<stop offset=".19111" stop-color="#7a2d40"/>
<stop offset=".19153" stop-color="#63233f"/>
<stop offset=".19194" stop-color="#4e1a3c"/>
<stop offset=".19236" stop-color="#3b1236"/>
<stop offset=".19278" stop-color="#2a0c2f"/>
<stop offset=".19319" stop-color="#1d0827"/>
<stop offset=".19361" stop-color="#13051f"/>
<stop offset=".19403" stop-color="#0b0317"/>
<stop offset=".19458" stop-color="#05020f"/>
<stop offset=".19528" stop-color="#020108"/>
<stop offset=".19611" stop-color="#000004"/>
<stop offset=".19778" stop-color="#000003"/>
<stop offset=".22333" stop-color="#000003"/>
<stop offset=".22444" stop-color="#000005"/>
<stop offset=".22514" stop-color="#020108"/>
<stop offset=".22583" stop-color="#05020f"/>
<stop offset=".22639" stop-color="#0a0318"/>
<stop offset=".22694" stop-color="#130523"/>
<stop offset=".22736" stop-color="#1d082c"/>
<stop offset=".22778" stop-color="#290b35"/>
<stop offset=".22819" stop-color="#370f3d"/>
<stop offset=".22875" stop-color="#4e1646"/>
<stop offset=".22931" stop-color="#681e4d"/>
<stop offset=".22986" stop-color="#82284f"/>
<stop offset=".23042" stop-color="#9a304f"/>
<stop offset=".23083" stop-color="#a8364e"/>
<stop offset=".23125" stop-color="#b33a4c"/>
<stop offset=".23153" stop-color="#b83c4c"/>
<stop offset=".23181" stop-color="#ba3d4b"/>
<stop offset=".23208" stop-color="#bb3d4b"/>
<stop offset=".23236" stop-color="#b93d4c"/>
<stop offset=".23264" stop-color="#b43b4c"/>
<stop offset=".23306" stop-color="#aa374e"/>
<stop offset=".23347" stop-color="#9c314f"/>
<stop offset=".23403" stop-color="#852850"/>
<stop offset=".23458" stop-color="#6b1f4e"/>
<stop offset=".23514" stop-color="#511748"/>
<stop offset=".23569" stop-color="#3a103f"/>
<stop offset=".23611" stop-color="#2b0c37"/>
<stop offset=".23653" stop-color="#1f082e"/>
<stop offset=".23694" stop-color="#150625"/>
<stop offset=".23736" stop-color="#0e041d"/>
<stop offset=".23792" stop-color="#070314"/>
<stop offset=".23847" stop-color="#03020e"/>
<stop offset=".23903" stop-color="#02010b"/>
<stop offset=".23958" stop-color="#03010c"/>
<stop offset=".24014" stop-color="#050211"/>
<stop offset=".24069" stop-color="#0b0419"/>
<stop offset=".24125" stop-color="#140624"/>
<stop offset=".24167" stop-color="#1d082d"/>
<stop offset=".24208" stop-color="#280b36"/>
<stop offset=".24264" stop-color="#3b1042"/>
<stop offset=".24319" stop-color="#52164b"/>
<stop offset=".24375" stop-color="#6a1d51"/>
<stop offset=".24431" stop-color="#822554"/>
<stop offset=".24486" stop-color="#972d54"/>
<stop offset=".24528" stop-color="#a43154"/>
<stop offset=".24569" stop-color="#ad3553"/>
<stop offset=".24597" stop-color="#b13652"/>
<stop offset=".24625" stop-color="#b33752"/>
<stop offset=".24653" stop-color="#b23652"/>
<stop offset=".24681" stop-color="#b03552"/>
<stop offset=".24722" stop-color="#a83353"/>
<stop offset=".24764" stop-color="#9c2e54"/>
<stop offset=".24806" stop-color="#8e2955"/>
<stop offset=".24861" stop-color="#772254"/>
<stop offset=".24917" stop-color="#5e1a4f"/>
<stop offset=".24972" stop-color="#471348"/>
<stop offset=".25028" stop-color="#320d3d"/>
<stop offset=".25069" stop-color="#250a34"/>
<stop offset=".25111" stop-color="#1a072b"/>
<stop offset=".25153" stop-color="#120522"/>
<stop offset=".25208" stop-color="#0a0318"/>
<stop offset=".25278" stop-color="#04020e"/>
<stop offset=".25347" stop-color="#010108"/>
<stop offset=".25431" stop-color="#000004"/>
<stop offset=".25597" stop-color="#000003"/>
<stop offset=".29542" stop-color="#000003"/>
<stop offset=".29653" stop-color="#000005"/>
<stop offset=".2975" stop-color="#010108"/>
<stop offset=".29819" stop-color="#03020e"/>
<stop offset=".29889" stop-color="#080317"/>
<stop offset=".29958" stop-color="#100523"/>
<stop offset=".30014" stop-color="#19072f"/>
<stop offset=".30069" stop-color="#25093c"/>
<stop offset=".30139" stop-color="#370d4b"/>
<stop offset=".30208" stop-color="#4d1257"/>
<stop offset=".30278" stop-color="#63185f"/>
<stop offset=".30347" stop-color="#771d64"/>
<stop offset=".30403" stop-color="#842165"/>
<stop offset=".30444" stop-color="#8a2366"/>
<stop offset=".30486" stop-color="#8e2466"/>
<stop offset=".30528" stop-color="#8f2466"/>
<stop offset=".30569" stop-color="#8c2366"/>
<stop offset=".30611" stop-color="#872265"/>
<stop offset=".30653" stop-color="#7f1f65"/>
<stop offset=".30708" stop-color="#721b63"/>
<stop offset=".30778" stop-color="#5d165e"/>
<stop offset=".30847" stop-color="#471154"/>
<stop offset=".30917" stop-color="#320c48"/>
<stop offset=".30986" stop-color="#210938"/>
<stop offset=".31042" stop-color="#16062c"/>
<stop offset=".31111" stop-color="#0c041e"/>
<stop offset=".31181" stop-color="#060313"/>
<stop offset=".3125" stop-color="#02010c"/>
<stop offset=".31333" stop-color="#010007"/>
<stop offset=".31444" stop-color="#000004"/>
<stop offset=".31889" stop-color="#000003"/>
<stop offset=".34222" stop-color="#000004"/>
<stop offset=".34333" stop-color="#000005"/>
<stop offset=".34431" stop-color="#02010a"/>
<stop offset=".34514" stop-color="#040210"/>
<stop offset=".34583" stop-color="#080419"/>
<stop offset=".34653" stop-color="#0f0525"/>
<stop offset=".34722" stop-color="#180733"/>
<stop offset=".34792" stop-color="#250a42"/>
<stop offset=".34889" stop-color="#3b0d55"/>
<stop offset=".34958" stop-color="#4c115f"/>
<stop offset=".35028" stop-color="#5b1466"/>
<stop offset=".35097" stop-color="#68176a"/>
<stop offset=".35153" stop-color="#70196b"/>
<stop offset=".35208" stop-color="#731a6c"/>
<stop offset=".35264" stop-color="#741a6c"/>
<stop offset=".35319" stop-color="#71196c"/>
<stop offset=".35375" stop-color="#6a186a"/>
<stop offset=".35444" stop-color="#5e1467"/>
<stop offset=".35514" stop-color="#4f1161"/>
<stop offset=".35583" stop-color="#3e0e57"/>
<stop offset=".35667" stop-color="#2b0b48"/>
<stop offset=".3575" stop-color="#1b0837"/>
<stop offset=".35819" stop-color="#11062a"/>
<stop offset=".35889" stop-color="#0a051e"/>
<stop offset=".35958" stop-color="#060316"/>
<stop offset=".36028" stop-color="#040212"/>
<stop offset=".36097" stop-color="#030211"/>
<stop offset=".36167" stop-color="#050315"/>
<stop offset=".36236" stop-color="#09041c"/>
<stop offset=".36306" stop-color="#0f0627"/>
<stop offset=".36389" stop-color="#1a0837"/>
<stop offset=".36472" stop-color="#290a47"/>
<stop offset=".36556" stop-color="#3a0d56"/>
<stop offset=".36625" stop-color="#490f60"/>
<stop offset=".36694" stop-color="#571267"/>
<stop offset=".36764" stop-color="#62156b"/>
<stop offset=".36819" stop-color="#68166c"/>
<stop offset=".36875" stop-color="#6b176d"/>
<stop offset=".36931" stop-color="#6b176d"/>
<stop offset=".36986" stop-color="#68166c"/>
<stop offset=".37042" stop-color="#62156b"/>
<stop offset=".37111" stop-color="#571267"/>
<stop offset=".37181" stop-color="#4a0f61"/>
<stop offset=".3725" stop-color="#3b0d58"/>
<stop offset=".37347" stop-color="#270a46"/>
<stop offset=".37431" stop-color="#190835"/>
<stop offset=".37514" stop-color="#0e0625"/>
<stop offset=".37597" stop-color="#070418"/>
<stop offset=".37681" stop-color="#03020f"/>
<stop offset=".37764" stop-color="#010109"/>
<stop offset=".37875" stop-color="#000005"/>
<stop offset=".38042" stop-color="#000003"/>
<stop offset=".42931" stop-color="#000003"/>
<stop offset=".43097" stop-color="#000005"/>
<stop offset=".43208" stop-color="#010109"/>
<stop offset=".43319" stop-color="#030210"/>
<stop offset=".43417" stop-color="#070419"/>
<stop offset=".43514" stop-color="#0d0625"/>
<stop offset=".43625" stop-color="#170837"/>
<stop offset=".43736" stop-color="#250a49"/>
<stop offset=".43833" stop-color="#320a57"/>
<stop offset=".43917" stop-color="#3c0b60"/>
<stop offset=".44014" stop-color="#460c67"/>
<stop offset=".44097" stop-color="#4b0c6a"/>
<stop offset=".44181" stop-color="#4c0c6a"/>
<stop offset=".44264" stop-color="#490c69"/>
<stop offset=".44347" stop-color="#430b65"/>
<stop offset=".44431" stop-color="#3a0b5f"/>
<stop offset=".44528" stop-color="#2e0a54"/>
<stop offset=".44639" stop-color="#200943"/>
<stop offset=".4475" stop-color="#130831"/>
<stop offset=".44861" stop-color="#0a0521"/>
<stop offset=".44958" stop-color="#050315"/>
<stop offset=".45069" stop-color="#02010d"/>
<stop offset=".45181" stop-color="#010108"/>
<stop offset=".45347" stop-color="#000004"/>
<stop offset=".45736" stop-color="#000003"/>
<stop offset=".49069" stop-color="#000003"/>
<stop offset=".49292" stop-color="#000006"/>
<stop offset=".49403" stop-color="#010109"/>
<stop offset=".49514" stop-color="#02020e"/>
<stop offset=".49625" stop-color="#050316"/>
<stop offset=".49736" stop-color="#0a0621"/>
<stop offset=".49847" stop-color="#10082d"/>
<stop offset=".50014" stop-color="#1d0a42"/>
<stop offset=".50125" stop-color="#260a4f"/>
<stop offset=".50236" stop-color="#2e0a58"/>
<stop offset=".50347" stop-color="#34095e"/>
<stop offset=".50458" stop-color="#360960"/>
<stop offset=".50569" stop-color="#34095e"/>
<stop offset=".50681" stop-color="#2f0a59"/>
<stop offset=".50792" stop-color="#270a50"/>
<stop offset=".50903" stop-color="#1e0a43"/>
<stop offset=".51069" stop-color="#11082f"/>
<stop offset=".51181" stop-color="#0a0622"/>
<stop offset=".51292" stop-color="#060418"/>
<stop offset=".51403" stop-color="#030210"/>
<stop offset=".51514" stop-color="#01010b"/>
<stop offset=".51681" stop-color="#000006"/>
<stop offset=".51903" stop-color="#000003"/>
<stop offset=".61681" stop-color="#000003"/>
<stop offset=".62014" stop-color="#000006"/>
<stop offset=".62236" stop-color="#02010c"/>
<stop offset=".62458" stop-color="#040314"/>
<stop offset=".62736" stop-color="#0a0623"/>
<stop offset=".63069" stop-color="#130a34"/>
<stop offset=".63236" stop-color="#170b3b"/>
<stop offset=".63403" stop-color="#180b3d"/>
<stop offset=".63569" stop-color="#180b3c"/>
<stop offset=".63736" stop-color="#150a37"/>
<stop offset=".63958" stop-color="#0f092d"/>
<stop offset=".64292" stop-color="#06041b"/>
<stop offset=".64569" stop-color="#02020f"/>
<stop offset=".64792" stop-color="#010108"/>
<stop offset=".65069" stop-color="#000005"/>
<stop offset=".65514" stop-color="#000003"/>
<stop offset=".71403" stop-color="#000003"/>
<stop offset=".71847" stop-color="#010007"/>
<stop offset=".72125" stop-color="#02010c"/>
<stop offset=".72625" stop-color="#06041a"/>
<stop offset=".73014" stop-color="#0b0724"/>
<stop offset=".73236" stop-color="#0d0828"/>
<stop offset=".73458" stop-color="#0e082a"/>
<stop offset=".73681" stop-color="#0d0828"/>
<stop offset=".73958" stop-color="#0a0723"/>
<stop offset=".74569" stop-color="#030212"/>
<stop offset=".74958" stop-color="#01010a"/>
<stop offset=".75236" stop-color="#010007"/>
<stop offset=".75569" stop-color="#010008"/>
<stop offset=".75847" stop-color="#01010b"/>
<stop offset=".76403" stop-color="#040316"/>
<stop offset=".76847" stop-color="#080620"/>
<stop offset=".77181" stop-color="#0a0724"/>
<stop offset=".77403" stop-color="#0a0724"/>
<stop offset=".77792" stop-color="#080620"/>
<stop offset=".78236" stop-color="#040316"/>
<stop offset=".78847" stop-color="#010109"/>
<stop offset=".79292" stop-color="#000005"/>
<stop offset=".79847" stop-color="#000003"/>
<stop offset=".93736" stop-color="#000003"/>
<stop offset=".94681" stop-color="#010007"/>
<stop offset=".95292" stop-color="#02010d"/>
<stop offset=".95958" stop-color="#030212"/>
<stop offset=".96458" stop-color="#040314"/>
<stop offset=".97014" stop-color="#040313"/>
<stop offset=".97792" stop-color="#02010e"/>
<stop offset=".98458" stop-color="#010008"/>
<stop offset=".99458" stop-color="#000004"/>
<stop offset=".99958" stop-color="#000003"/>
<stop offset="1" stop-color="#000003"/>
</radialGradient>
<radialGradient id="g3" gradientUnits="userSpaceOnUse" cx="0" cy="0" r="1800" gradientTransform="translate(649 627) scale(0.138855 0.138504)">
<stop offset="0" stop-color="#000003"/>
<stop offset=".08833" stop-color="#000003"/>
<stop offset=".08944" stop-color="#010005"/>
<stop offset=".09014" stop-color="#03010a"/>
<stop offset=".09056" stop-color="#07020e"/>
<stop offset=".09097" stop-color="#0d0414"/>
<stop offset=".09139" stop-color="#16071b"/>
<stop offset=".09181" stop-color="#230c22"/>
<stop offset=".09222" stop-color="#331429"/>
<stop offset=".09264" stop-color="#472030"/>
<stop offset=".09306" stop-color="#5d2e36"/>
<stop offset=".09375" stop-color="#854a3e"/>
<stop offset=".09431" stop-color="#a36141"/>
<stop offset=".09472" stop-color="#b56f42"/>
<stop offset=".095" stop-color="#bf7742"/>
<stop offset=".09528" stop-color="#c67c42"/>
<stop offset=".09556" stop-color="#ca8043"/>
<stop offset=".09583" stop-color="#cc8043"/>
<stop offset=".09611" stop-color="#c97f43"/>
<stop offset=".09639" stop-color="#c47b43"/>
<stop offset=".09667" stop-color="#bc7442"/>
<stop offset=".09694" stop-color="#b16c42"/>
<stop offset=".09736" stop-color="#9e5d40"/>
<stop offset=".09792" stop-color="#7f463d"/>
<stop offset=".09847" stop-color="#602f37"/>
<stop offset=".09889" stop-color="#492131"/>
<stop offset=".09931" stop-color="#35152a"/>
<stop offset=".09972" stop-color="#250d23"/>
<stop offset=".10014" stop-color="#17071c"/>
<stop offset=".10056" stop-color="#0e0415"/>
<stop offset=".10097" stop-color="#07020f"/>
<stop offset=".10153" stop-color="#030109"/>
<stop offset=".10222" stop-color="#010005"/>
<stop offset=".10333" stop-color="#000003"/>
<stop offset=".12722" stop-color="#000003"/>
<stop offset=".12806" stop-color="#010006"/>
<stop offset=".12875" stop-color="#04010b"/>
<stop offset=".12931" stop-color="#090312"/>
<stop offset=".12972" stop-color="#100519"/>
<stop offset=".13014" stop-color="#1a0820"/>
<stop offset=".13056" stop-color="#280d28"/>
<stop offset=".13097" stop-color="#39142e"/>
<stop offset=".13139" stop-color="#4d1e34"/>
<stop offset=".13194" stop-color="#6b2e38"/>
<stop offset=".1325" stop-color="#8a4038"/>
<stop offset=".13292" stop-color="#a04e37"/>
<stop offset=".13333" stop-color="#b45935"/>
<stop offset=".13361" stop-color="#be6034"/>
<stop offset=".13389" stop-color="#c56533"/>
<stop offset=".13417" stop-color="#ca6832"/>
<stop offset=".13444" stop-color="#cc6932"/>
<stop offset=".13472" stop-color="#cb6832"/>
<stop offset=".135" stop-color="#c76533"/>
<stop offset=".13528" stop-color="#c06134"/>
<stop offset=".13556" stop-color="#b65b35"/>
<stop offset=".13597" stop-color="#a34f37"/>
<stop offset=".13653" stop-color="#863d39"/>
<stop offset=".13708" stop-color="#662b38"/>
<stop offset=".13764" stop-color="#491b33"/>
<stop offset=".13806" stop-color="#35122e"/>
<stop offset=".13847" stop-color="#250c28"/>
<stop offset=".13889" stop-color="#180721"/>
<stop offset=".13931" stop-color="#10051c"/>
<stop offset=".13972" stop-color="#0b0419"/>
<stop offset=".14014" stop-color="#0b0319"/>
<stop offset=".14056" stop-color="#0e041b"/>
<stop offset=".14097" stop-color="#150620"/>
<stop offset=".14139" stop-color="#210a26"/>
<stop offset=".14181" stop-color="#300f2d"/>
<stop offset=".14222" stop-color="#421733"/>
<stop offset=".14278" stop-color="#5e2538"/>
<stop offset=".14333" stop-color="#7d3539"/>
<stop offset=".14389" stop-color="#9b4637"/>
<stop offset=".14431" stop-color="#af5135"/>
<stop offset=".14458" stop-color="#ba5834"/>
<stop offset=".14486" stop-color="#c25d32"/>
<stop offset=".14514" stop-color="#c86031"/>
<stop offset=".14542" stop-color="#cb6231"/>
<stop offset=".14569" stop-color="#cb6131"/>
<stop offset=".14597" stop-color="#c86031"/>
<stop offset=".14625" stop-color="#c15c32"/>
<stop offset=".14653" stop-color="#b95734"/>
<stop offset=".14681" stop-color="#ae5036"/>
<stop offset=".14722" stop-color="#9a4538"/>
<stop offset=".14778" stop-color="#7c3439"/>
<stop offset=".14833" stop-color="#5d2438"/>
<stop offset=".14889" stop-color="#411632"/>
<stop offset=".14931" stop-color="#2f0f2c"/>
<stop offset=".14972" stop-color="#200925"/>
<stop offset=".15014" stop-color="#14061d"/>
<stop offset=".15056" stop-color="#0c0316"/>
<stop offset=".15097" stop-color="#06020f"/>
<stop offset=".15153" stop-color="#020109"/>
<stop offset=".15222" stop-color="#010005"/>
<stop offset=".15333" stop-color="#000003"/>
<stop offset=".155" stop-color="#000004"/>
<stop offset=".15583" stop-color="#010006"/>
<stop offset=".15653" stop-color="#03010b"/>
<stop offset=".15708" stop-color="#080212"/>
<stop offset=".1575" stop-color="#0e0419"/>
<stop offset=".15792" stop-color="#170620"/>
<stop offset=".15833" stop-color="#230a28"/>
<stop offset=".15875" stop-color="#321030"/>
<stop offset=".15917" stop-color="#451736"/>
<stop offset=".15972" stop-color="#61233b"/>
<stop offset=".16028" stop-color="#7f323d"/>
<stop offset=".16083" stop-color="#9c403b"/>
<stop offset=".16125" stop-color="#af4a39"/>
<stop offset=".16153" stop-color="#b94f37"/>
<stop offset=".16181" stop-color="#c15336"/>
<stop offset=".16208" stop-color="#c65635"/>
<stop offset=".16236" stop-color="#c95735"/>
<stop offset=".16264" stop-color="#c95735"/>
<stop offset=".16292" stop-color="#c65537"/>
<stop offset=".16319" stop-color="#c05239"/>
<stop offset=".16361" stop-color="#b44b3d"/>
<stop offset=".16417" stop-color="#9f3e46"/>
<stop offset=".16486" stop-color="#842e51"/>
<stop offset=".16528" stop-color="#772557"/>
<stop offset=".16556" stop-color="#71215a"/>
<stop offset=".16583" stop-color="#6d1e5c"/>
<stop offset=".16611" stop-color="#6b1d5d"/>
<stop offset=".16639" stop-color="#6c1d5d"/>
<stop offset=".16667" stop-color="#6f1f5b"/>
<stop offset=".16694" stop-color="#742359"/>
<stop offset=".16736" stop-color="#812a54"/>
<stop offset=".16792" stop-color="#95364c"/>
<stop offset=".16861" stop-color="#b04541"/>
<stop offset=".16903" stop-color="#bc4c3d"/>
<stop offset=".16931" stop-color="#c2503a"/>
<stop offset=".16958" stop-color="#c65239"/>
<stop offset=".16986" stop-color="#c75338"/>
<stop offset=".17014" stop-color="#c65239"/>
<stop offset=".17042" stop-color="#c15039"/>
<stop offset=".17069" stop-color="#ba4c3a"/>
<stop offset=".17097" stop-color="#b1483c"/>
<stop offset=".17139" stop-color="#a03f3e"/>
<stop offset=".17194" stop-color="#843240"/>
<stop offset=".1725" stop-color="#66243e"/>
<stop offset=".17306" stop-color="#4a183a"/>
<stop offset=".17347" stop-color="#371134"/>
<stop offset=".17389" stop-color="#270b2c"/>
<stop offset=".17431" stop-color="#1a0724"/>
<stop offset=".17472" stop-color="#10051c"/>
<stop offset=".17514" stop-color="#0a0315"/>
<stop offset=".17569" stop-color="#05020f"/>
<stop offset=".17611" stop-color="#03010c"/>
<stop offset=".17653" stop-color="#03020d"/>
<stop offset=".17694" stop-color="#060210"/>
<stop offset=".17736" stop-color="#0a0315"/>
<stop offset=".17778" stop-color="#10051c"/>
<stop offset=".17819" stop-color="#190724"/>
<stop offset=".17861" stop-color="#260b2d"/>
<stop offset=".17903" stop-color="#351035"/>
<stop offset=".17944" stop-color="#48163b"/>
<stop offset=".18" stop-color="#632141"/>
<stop offset=".18056" stop-color="#802d44"/>
<stop offset=".18111" stop-color="#9b3943"/>
<stop offset=".18153" stop-color="#ac4142"/>
<stop offset=".18181" stop-color="#b54541"/>
<stop offset=".18208" stop-color="#bc4840"/>
<stop offset=".18236" stop-color="#c14a3f"/>
<stop offset=".18264" stop-color="#c24b3f"/>
<stop offset=".18292" stop-color="#c14a3f"/>
<stop offset=".18319" stop-color="#be4840"/>
<stop offset=".18347" stop-color="#b74541"/>
<stop offset=".18375" stop-color="#af4242"/>
<stop offset=".18417" stop-color="#9e3a43"/>
<stop offset=".18472" stop-color="#832e44"/>
<stop offset=".18528" stop-color="#672242"/>
<stop offset=".18583" stop-color="#4b173d"/>
<stop offset=".18625" stop-color="#381136"/>
<stop offset=".18667" stop-color="#280b2f"/>
<stop offset=".18708" stop-color="#1b0826"/>
<stop offset=".1875" stop-color="#12051e"/>
<stop offset=".18792" stop-color="#0b0316"/>
<stop offset=".18847" stop-color="#05020e"/>
<stop offset=".18917" stop-color="#010107"/>
<stop offset=".19" stop-color="#000004"/>
<stop offset=".19222" stop-color="#000003"/>
<stop offset=".205" stop-color="#000004"/>
<stop offset=".20597" stop-color="#010006"/>
<stop offset=".20667" stop-color="#03010b"/>
<stop offset=".20722" stop-color="#070212"/>
<stop offset=".20778" stop-color="#0e041b"/>
<stop offset=".20819" stop-color="#150623"/>
<stop offset=".20861" stop-color="#20092c"/>
<stop offset=".20903" stop-color="#2d0c35"/>
<stop offset=".20944" stop-color="#3c113e"/>
<stop offset=".21" stop-color="#541846"/>
<stop offset=".21056" stop-color="#6e214c"/>
<stop offset=".21111" stop-color="#882a4f"/>
<stop offset=".21153" stop-color="#99304f"/>
<stop offset=".21194" stop-color="#a7354e"/>
<stop offset=".21222" stop-color="#ae384e"/>
<stop offset=".2125" stop-color="#b33a4d"/>
<stop offset=".21278" stop-color="#b53b4d"/>
<stop offset=".21306" stop-color="#b53b4d"/>
<stop offset=".21333" stop-color="#b33a4d"/>
<stop offset=".21361" stop-color="#af384e"/>
<stop offset=".21403" stop-color="#a4344f"/>
<stop offset=".21444" stop-color="#952f4f"/>
<stop offset=".215" stop-color="#7d264e"/>
<stop offset=".21556" stop-color="#631d4b"/>
<stop offset=".21611" stop-color="#4a1544"/>
<stop offset=".21667" stop-color="#330e3a"/>
<stop offset=".21708" stop-color="#250a31"/>
<stop offset=".2175" stop-color="#1a0728"/>
<stop offset=".21792" stop-color="#11051f"/>
<stop offset=".21847" stop-color="#090315"/>
<stop offset=".21903" stop-color="#04020d"/>
<stop offset=".21972" stop-color="#010107"/>
<stop offset=".22056" stop-color="#000004"/>
<stop offset=".22222" stop-color="#000003"/>
<stop offset=".22944" stop-color="#000003"/>
<stop offset=".23056" stop-color="#010005"/>
<stop offset=".23125" stop-color="#020109"/>
<stop offset=".23194" stop-color="#050210"/>
<stop offset=".2325" stop-color="#0b0319"/>
<stop offset=".23306" stop-color="#130624"/>
<stop offset=".23347" stop-color="#1d082d"/>
<stop offset=".23389" stop-color="#280b36"/>
<stop offset=".23444" stop-color="#3b0f42"/>
<stop offset=".235" stop-color="#51154c"/>
<stop offset=".23556" stop-color="#681c53"/>
<stop offset=".23611" stop-color="#7f2356"/>
<stop offset=".23653" stop-color="#8e2858"/>
<stop offset=".23694" stop-color="#9b2c58"/>
<stop offset=".23736" stop-color="#a32f58"/>
<stop offset=".23764" stop-color="#a73058"/>
<stop offset=".23792" stop-color="#a83158"/>
<stop offset=".23819" stop-color="#a83058"/>
<stop offset=".23847" stop-color="#a52f58"/>
<stop offset=".23889" stop-color="#9d2d58"/>
<stop offset=".23931" stop-color="#922958"/>
<stop offset=".23972" stop-color="#832457"/>
<stop offset=".24042" stop-color="#671c53"/>
<stop offset=".24097" stop-color="#50154d"/>
<stop offset=".24153" stop-color="#3b0f44"/>
<stop offset=".24208" stop-color="#280b3a"/>
<stop offset=".2425" stop-color="#1e0832"/>
<stop offset=".24292" stop-color="#16072b"/>
<stop offset=".24333" stop-color="#100627"/>
<stop offset=".24375" stop-color="#0e0525"/>
<stop offset=".24417" stop-color="#0f0525"/>
<stop offset=".24458" stop-color="#120628"/>
<stop offset=".245" stop-color="#18072e"/>
<stop offset=".24542" stop-color="#210935"/>
<stop offset=".24583" stop-color="#2d0c3d"/>
<stop offset=".24639" stop-color="#3f1048"/>
<stop offset=".24708" stop-color="#5a1752"/>
<stop offset=".24764" stop-color="#701e58"/>
<stop offset=".24819" stop-color="#85245b"/>
<stop offset=".24861" stop-color="#92285b"/>
<stop offset=".24903" stop-color="#9c2b5b"/>
<stop offset=".24944" stop-color="#a32d5b"/>
<stop offset=".24986" stop-color="#a62e5b"/>
<stop offset=".25028" stop-color="#a62e5c"/>
<stop offset=".25069" stop-color="#a32d5d"/>
<stop offset=".25181" stop-color="#942762"/>
<stop offset=".25236" stop-color="#8e2564"/>
<stop offset=".25278" stop-color="#8d2663"/>
<stop offset=".25319" stop-color="#8f2961"/>
<stop offset=".25361" stop-color="#942f5e"/>
<stop offset=".25403" stop-color="#9d395a"/>
<stop offset=".25444" stop-color="#a74657"/>
<stop offset=".25486" stop-color="#b45755"/>
<stop offset=".25542" stop-color="#c57053"/>
<stop offset=".25611" stop-color="#d99254"/>
<stop offset=".25653" stop-color="#e2a355"/>
<stop offset=".25681" stop-color="#e8ad56"/>
<stop offset=".25708" stop-color="#ebb557"/>
<stop offset=".25736" stop-color="#eeba57"/>
<stop offset=".25764" stop-color="#efbd58"/>
<stop offset=".25792" stop-color="#efbd58"/>
<stop offset=".25819" stop-color="#edba58"/>
<stop offset=".25847" stop-color="#eab457"/>
<stop offset=".25875" stop-color="#e5ac57"/>
<stop offset=".25917" stop-color="#da9b56"/>
<stop offset=".25958" stop-color="#cc8854"/>
<stop offset=".26" stop-color="#bb7252"/>
<stop offset=".26056" stop-color="#a1564e"/>
<stop offset=".26097" stop-color="#8c434b"/>
<stop offset=".26139" stop-color="#753248"/>
<stop offset=".26181" stop-color="#5f2444"/>
<stop offset=".26222" stop-color="#4b193f"/>
<stop offset=".26264" stop-color="#381139"/>
<stop offset=".26306" stop-color="#290c32"/>
<stop offset=".26347" stop-color="#1c082a"/>
<stop offset=".26389" stop-color="#120521"/>
<stop offset=".26431" stop-color="#0b0419"/>
<stop offset=".26486" stop-color="#060210"/>
<stop offset=".26556" stop-color="#020109"/>
<stop offset=".26639" stop-color="#000005"/>
<stop offset=".2675" stop-color="#000003"/>
<stop offset=".27861" stop-color="#000003"/>
<stop offset=".27972" stop-color="#000005"/>
<stop offset=".28056" stop-color="#020109"/>
<stop offset=".28125" stop-color="#04020f"/>
<stop offset=".28194" stop-color="#090419"/>
<stop offset=".2825" stop-color="#100524"/>
<stop offset=".28306" stop-color="#1a0730"/>
<stop offset=".28361" stop-color="#260a3c"/>
<stop offset=".28431" stop-color="#3a0e4b"/>
<stop offset=".285" stop-color="#501357"/>
<stop offset=".28569" stop-color="#66195f"/>
<stop offset=".28625" stop-color="#761d63"/>
<stop offset=".28681" stop-color="#832065"/>
<stop offset=".28722" stop-color="#8a2365"/>
<stop offset=".28764" stop-color="#8e2466"/>
<stop offset=".28806" stop-color="#902466"/>
<stop offset=".28847" stop-color="#8e2466"/>
<stop offset=".28903" stop-color="#892267"/>
<stop offset=".29069" stop-color="#731a6b"/>
<stop offset=".29125" stop-color="#6e186c"/>
<stop offset=".29181" stop-color="#6c176c"/>
<stop offset=".29236" stop-color="#6e186c"/>
<stop offset=".29306" stop-color="#751a6b"/>
<stop offset=".29417" stop-color="#832069"/>
<stop offset=".29486" stop-color="#8a2268"/>
<stop offset=".29542" stop-color="#8b2367"/>
<stop offset=".29583" stop-color="#8a2267"/>
<stop offset=".29625" stop-color="#852167"/>
<stop offset=".29667" stop-color="#7f1f66"/>
<stop offset=".29722" stop-color="#721b64"/>
<stop offset=".29792" stop-color="#5f165f"/>
<stop offset=".29861" stop-color="#491156"/>
<stop offset=".29931" stop-color="#350d4a"/>
<stop offset=".3" stop-color="#23093b"/>
<stop offset=".30056" stop-color="#17072e"/>
<stop offset=".30111" stop-color="#0f0523"/>
<stop offset=".30181" stop-color="#070317"/>
<stop offset=".30236" stop-color="#040211"/>
<stop offset=".30292" stop-color="#02010d"/>
<stop offset=".30361" stop-color="#02010c"/>
<stop offset=".30431" stop-color="#03020f"/>
<stop offset=".305" stop-color="#070316"/>
<stop offset=".30569" stop-color="#0d0521"/>
<stop offset=".30639" stop-color="#17072f"/>
<stop offset=".30708" stop-color="#25093e"/>
<stop offset=".30792" stop-color="#3a0e4f"/>
<stop offset=".30861" stop-color="#4d125b"/>
<stop offset=".30931" stop-color="#601663"/>
<stop offset=".30986" stop-color="#6d1967"/>
<stop offset=".31042" stop-color="#771c69"/>
<stop offset=".31083" stop-color="#7c1d6a"/>
<stop offset=".31125" stop-color="#7e1e6a"/>
<stop offset=".31167" stop-color="#7d1e6a"/>
<stop offset=".31208" stop-color="#7a1d6a"/>
<stop offset=".3125" stop-color="#741b69"/>
<stop offset=".31306" stop-color="#6a1866"/>
<stop offset=".31375" stop-color="#581460"/>
<stop offset=".31444" stop-color="#451057"/>
<stop offset=".31528" stop-color="#2f0b47"/>
<stop offset=".31597" stop-color="#1f0838"/>
<stop offset=".31667" stop-color="#130629"/>
<stop offset=".31736" stop-color="#0a041c"/>
<stop offset=".31806" stop-color="#050212"/>
<stop offset=".31875" stop-color="#02010b"/>
<stop offset=".31958" stop-color="#010006"/>
<stop offset=".32069" stop-color="#000004"/>
<stop offset=".32514" stop-color="#000003"/>
<stop offset=".32681" stop-color="#000004"/>
<stop offset=".32792" stop-color="#010006"/>
<stop offset=".32875" stop-color="#02010b"/>
<stop offset=".32944" stop-color="#050212"/>
<stop offset=".33014" stop-color="#0a041c"/>
<stop offset=".33083" stop-color="#110628"/>
<stop offset=".33153" stop-color="#1c0837"/>
<stop offset=".33236" stop-color="#2d0b49"/>
<stop offset=".33319" stop-color="#410e58"/>
<stop offset=".33389" stop-color="#511262"/>
<stop offset=".33458" stop-color="#601568"/>
<stop offset=".33514" stop-color="#69176a"/>
<stop offset=".33569" stop-color="#6f196c"/>
<stop offset=".33625" stop-color="#71196c"/>
<stop offset=".33681" stop-color="#6f196c"/>
<stop offset=".33736" stop-color="#6a176b"/>
<stop offset=".33792" stop-color="#611568"/>
<stop offset=".33861" stop-color="#531263"/>
<stop offset=".33931" stop-color="#420f5a"/>
<stop offset=".34014" stop-color="#2f0b4b"/>
<stop offset=".34097" stop-color="#1e083a"/>
<stop offset=".34167" stop-color="#13062b"/>
<stop offset=".34236" stop-color="#0b041e"/>
<stop offset=".34306" stop-color="#060315"/>
<stop offset=".34375" stop-color="#03020e"/>
<stop offset=".34444" stop-color="#02010b"/>
<stop offset=".34514" stop-color="#02010b"/>
<stop offset=".34583" stop-color="#03020e"/>
<stop offset=".34653" stop-color="#060314"/>
<stop offset=".34722" stop-color="#0b041e"/>
<stop offset=".34792" stop-color="#14062b"/>
<stop offset=".34847" stop-color="#1e0837"/>
<stop offset=".34903" stop-color="#2b0b43"/>
<stop offset=".34972" stop-color="#3f0f50"/>
<stop offset=".35028" stop-color="#521458"/>
<stop offset=".35083" stop-color="#661a5d"/>
<stop offset=".35139" stop-color="#7b205e"/>
<stop offset=".35194" stop-color="#8f285c"/>
<stop offset=".35264" stop-color="#a63156"/>
<stop offset=".35319" stop-color="#b53851"/>
<stop offset=".35361" stop-color="#be3d4d"/>
<stop offset=".35403" stop-color="#c54049"/>
<stop offset=".35444" stop-color="#c94247"/>
<stop offset=".35486" stop-color="#cb4347"/>
<stop offset=".35528" stop-color="#ca4247"/>
<stop offset=".35569" stop-color="#c64049"/>
<stop offset=".35611" stop-color="#bf3d4c"/>
<stop offset=".35667" stop-color="#b33752"/>
<stop offset=".35722" stop-color="#a33057"/>
<stop offset=".35792" stop-color="#8c265d"/>
<stop offset=".35847" stop-color="#781f5e"/>
<stop offset=".35903" stop-color="#64195d"/>
<stop offset=".35958" stop-color="#501358"/>
<stop offset=".36014" stop-color="#3e0f50"/>
<stop offset=".36083" stop-color="#2a0b43"/>
<stop offset=".36139" stop-color="#1e0837"/>
<stop offset=".36208" stop-color="#120629"/>
<stop offset=".36278" stop-color="#0a041c"/>
<stop offset=".36347" stop-color="#050312"/>
<stop offset=".36417" stop-color="#02010c"/>
<stop offset=".36514" stop-color="#010006"/>
<stop offset=".36625" stop-color="#000004"/>
<stop offset=".36792" stop-color="#000004"/>
<stop offset=".36903" stop-color="#000005"/>
<stop offset=".37" stop-color="#010109"/>
<stop offset=".37083" stop-color="#03020f"/>
<stop offset=".37153" stop-color="#070317"/>
<stop offset=".37222" stop-color="#0d0522"/>
<stop offset=".37292" stop-color="#170730"/>
<stop offset=".37361" stop-color="#240a3f"/>
<stop offset=".37431" stop-color="#350d4d"/>
<stop offset=".375" stop-color="#4a1158"/>
<stop offset=".37556" stop-color="#5c165e"/>
<stop offset=".37611" stop-color="#6f1b61"/>
<stop offset=".37681" stop-color="#862360"/>
<stop offset=".3775" stop-color="#9b2b5d"/>
<stop offset=".37806" stop-color="#a93059"/>
<stop offset=".37861" stop-color="#b43555"/>
<stop offset=".37903" stop-color="#b93753"/>
<stop offset=".37944" stop-color="#bc3951"/>
<stop offset=".37986" stop-color="#bd3951"/>
<stop offset=".38028" stop-color="#bc3852"/>
<stop offset=".38069" stop-color="#b83653"/>
<stop offset=".38125" stop-color="#af3357"/>
<stop offset=".38181" stop-color="#a22d5b"/>
<stop offset=".3825" stop-color="#8f265f"/>
<stop offset=".38319" stop-color="#791e62"/>
<stop offset=".38375" stop-color="#661960"/>
<stop offset=".38431" stop-color="#54145c"/>
<stop offset=".385" stop-color="#3e0f53"/>
<stop offset=".38569" stop-color="#2c0b47"/>
<stop offset=".38639" stop-color="#1d0838"/>
<stop offset=".38708" stop-color="#12062a"/>
<stop offset=".38778" stop-color="#0a041e"/>
<stop offset=".38847" stop-color="#060315"/>
<stop offset=".38917" stop-color="#03020f"/>
<stop offset=".39" stop-color="#02010b"/>
<stop offset=".39083" stop-color="#02010b"/>
<stop offset=".39167" stop-color="#03020f"/>
<stop offset=".3925" stop-color="#060316"/>
<stop offset=".39333" stop-color="#0b0520"/>
<stop offset=".39431" stop-color="#140730"/>
<stop offset=".39528" stop-color="#210942"/>
<stop offset=".39639" stop-color="#330b55"/>
<stop offset=".39722" stop-color="#400c60"/>
<stop offset=".39806" stop-color="#4c0e67"/>
<stop offset=".39889" stop-color="#55106b"/>
<stop offset=".39972" stop-color="#5a116d"/>
<stop offset=".40056" stop-color="#5c126e"/>
<stop offset=".40167" stop-color="#5b116d"/>
<stop offset=".40333" stop-color="#570f6d"/>
<stop offset=".40444" stop-color="#57106d"/>
<stop offset=".40542" stop-color="#5a116d"/>
<stop offset=".40653" stop-color="#62146d"/>
<stop offset=".40875" stop-color="#731a6d"/>
<stop offset=".40986" stop-color="#791c6d"/>
<stop offset=".41097" stop-color="#7c1d6c"/>
<stop offset=".41208" stop-color="#7b1d6c"/>
<stop offset=".41319" stop-color="#781c6d"/>
<stop offset=".41431" stop-color="#721a6d"/>
<stop offset=".41653" stop-color="#63146e"/>
<stop offset=".4175" stop-color="#5e126e"/>
<stop offset=".41833" stop-color="#5e126d"/>
<stop offset=".41903" stop-color="#60136d"/>
<stop offset=".41972" stop-color="#66156d"/>
<stop offset=".42056" stop-color="#70196c"/>
<stop offset=".42167" stop-color="#811f69"/>
<stop offset=".42278" stop-color="#932665"/>
<stop offset=".42361" stop-color="#9e2a61"/>
<stop offset=".42431" stop-color="#a32c60"/>
<stop offset=".42486" stop-color="#a52c5f"/>
<stop offset=".42542" stop-color="#a32c60"/>
<stop offset=".42597" stop-color="#9f2a61"/>
<stop offset=".42667" stop-color="#962763"/>
<stop offset=".42736" stop-color="#892266"/>
<stop offset=".42819" stop-color="#751c67"/>
<stop offset=".42889" stop-color="#631665"/>
<stop offset=".42958" stop-color="#511261"/>
<stop offset=".43028" stop-color="#3f0e58"/>
<stop offset=".43111" stop-color="#2c0b4a"/>
<stop offset=".43194" stop-color="#1c083a"/>
<stop offset=".43264" stop-color="#12072d"/>
<stop offset=".43347" stop-color="#0a051f"/>
<stop offset=".43431" stop-color="#050315"/>
<stop offset=".43514" stop-color="#03020e"/>
<stop offset=".43597" stop-color="#02010b"/>
<stop offset=".43694" stop-color="#02010b"/>
<stop offset=".43792" stop-color="#03020f"/>
<stop offset=".43889" stop-color="#050316"/>
<stop offset=".43986" stop-color="#0a0621"/>
<stop offset=".44097" stop-color="#130830"/>
<stop offset=".44208" stop-color="#1e0942"/>
<stop offset=".44319" stop-color="#2b0a52"/>
<stop offset=".44417" stop-color="#350a5d"/>
<stop offset=".44514" stop-color="#3d0a64"/>
<stop offset=".44597" stop-color="#410a67"/>
<stop offset=".44681" stop-color="#420a67"/>
<stop offset=".44778" stop-color="#3f0a65"/>
<stop offset=".44875" stop-color="#380a5f"/>
<stop offset=".44986" stop-color="#2d0a56"/>
<stop offset=".45153" stop-color="#1e0a43"/>
<stop offset=".4525" stop-color="#170a3b"/>
<stop offset=".45333" stop-color="#150a37"/>
<stop offset=".45403" stop-color="#150a37"/>
<stop offset=".45472" stop-color="#170a3a"/>
<stop offset=".45556" stop-color="#1d0a41"/>
<stop offset=".45653" stop-color="#270b4d"/>
<stop offset=".45764" stop-color="#370c5a"/>
<stop offset=".45861" stop-color="#470e64"/>
<stop offset=".45958" stop-color="#57116a"/>
<stop offset=".46069" stop-color="#67166c"/>
<stop offset=".46167" stop-color="#72196d"/>
<stop offset=".4625" stop-color="#771c6c"/>
<stop offset=".46333" stop-color="#7a1c6c"/>
<stop offset=".46417" stop-color="#781c6c"/>
<stop offset=".465" stop-color="#731a6d"/>
<stop offset=".46597" stop-color="#69176c"/>
<stop offset=".46708" stop-color="#5a126a"/>
<stop offset=".46806" stop-color="#4a0e65"/>
<stop offset=".46889" stop-color="#3b0c5d"/>
<stop offset=".46986" stop-color="#2b0b4f"/>
<stop offset=".47097" stop-color="#1c093d"/>
<stop offset=".47194" stop-color="#11072d"/>
<stop offset=".47292" stop-color="#0a051f"/>
<stop offset=".47389" stop-color="#050315"/>
<stop offset=".475" stop-color="#02010d"/>
<stop offset=".47611" stop-color="#010008"/>
<stop offset=".47778" stop-color="#000004"/>
<stop offset=".48111" stop-color="#000003"/>
<stop offset=".48556" stop-color="#000004"/>
<stop offset=".48722" stop-color="#000006"/>
<stop offset=".48833" stop-color="#010109"/>
<stop offset=".48944" stop-color="#02020e"/>
<stop offset=".49056" stop-color="#050316"/>
<stop offset=".49167" stop-color="#0b0622"/>
<stop offset=".49278" stop-color="#130831"/>
<stop offset=".49389" stop-color="#1f0a43"/>
<stop offset=".495" stop-color="#2e0b53"/>
<stop offset=".49597" stop-color="#3c0c5f"/>
<stop offset=".49694" stop-color="#490d67"/>
<stop offset=".49806" stop-color="#57116b"/>
<stop offset=".49917" stop-color="#62146d"/>
<stop offset=".50014" stop-color="#67166e"/>
<stop offset=".50111" stop-color="#69166e"/>
<stop offset=".50208" stop-color="#67166e"/>
<stop offset=".50306" stop-color="#61146d"/>
<stop offset=".50417" stop-color="#57106b"/>
<stop offset=".50528" stop-color="#490d66"/>
<stop offset=".50625" stop-color="#3b0b5f"/>
<stop offset=".50722" stop-color="#2e0a53"/>
<stop offset=".50833" stop-color="#1f0a43"/>
<stop offset=".50944" stop-color="#140832"/>
<stop offset=".51056" stop-color="#0b0623"/>
<stop offset=".51167" stop-color="#060418"/>
<stop offset=".51278" stop-color="#03020f"/>
<stop offset=".51389" stop-color="#01010a"/>
<stop offset=".51556" stop-color="#000005"/>
<stop offset=".51778" stop-color="#000003"/>
<stop offset=".52056" stop-color="#000004"/>
<stop offset=".52278" stop-color="#010007"/>
<stop offset=".52444" stop-color="#02010d"/>
<stop offset=".52556" stop-color="#040313"/>
<stop offset=".52722" stop-color="#09061f"/>
<stop offset=".52944" stop-color="#140934"/>
<stop offset=".53111" stop-color="#1d0b44"/>
<stop offset=".53222" stop-color="#220b4b"/>
<stop offset=".53333" stop-color="#260b50"/>
<stop offset=".53444" stop-color="#270b52"/>
<stop offset=".53556" stop-color="#260b50"/>
<stop offset=".53667" stop-color="#220b4b"/>
<stop offset=".53778" stop-color="#1d0b43"/>
<stop offset=".54" stop-color="#10092f"/>
<stop offset=".54167" stop-color="#090620"/>
<stop offset=".54333" stop-color="#040314"/>
<stop offset=".54444" stop-color="#02020e"/>
<stop offset=".54611" stop-color="#010008"/>
<stop offset=".54778" stop-color="#000006"/>
<stop offset=".55" stop-color="#000007"/>
<stop offset=".55167" stop-color="#01010b"/>
<stop offset=".55333" stop-color="#030212"/>
<stop offset=".555" stop-color="#07051c"/>
<stop offset=".55722" stop-color="#0f082d"/>
<stop offset=".55944" stop-color="#190b3e"/>
<stop offset=".56056" stop-color="#1d0b45"/>
<stop offset=".56167" stop-color="#200b49"/>
<stop offset=".56278" stop-color="#210b4a"/>
<stop offset=".56389" stop-color="#200b48"/>
<stop offset=".565" stop-color="#1d0b44"/>
<stop offset=".56611" stop-color="#190b3d"/>
<stop offset=".56944" stop-color="#0b0724"/>
<stop offset=".57111" stop-color="#060418"/>
<stop offset=".57278" stop-color="#03020f"/>
<stop offset=".57444" stop-color="#010109"/>
<stop offset=".57667" stop-color="#000005"/>
<stop offset=".58" stop-color="#000003"/>
<stop offset="1" stop-color="#000003"/>
</radialGradient>
</defs>
<rect width="828" height="836" fill="#fff"/>
<g><rect x="55" y="32" width="342" height="350" fill="url(#g0)"/>
<rect x="55" y="58" width="342" height="1" fill="#000003" fill-opacity=".082"/>
<rect x="55" y="59" width="342" height="1" fill="#000003" fill-opacity=".898"/>
<rect x="55" y="60" width="342" height="1" fill="#000003" fill-opacity="1"/>
<rect x="55" y="61" width="342" height="1" fill="#000003" fill-opacity=".384"/>
<rect x="55" y="88" width="342" height="1" fill="#000003" fill-opacity=".612"/>
<rect x="55" y="89" width="342" height="1" fill="#000003" fill-opacity="1"/>
<rect x="55" y="90" width="342" height="1" fill="#000003" fill-opacity=".729"/>
<rect x="55" y="91" width="342" height="1" fill="#000003" fill-opacity=".016"/>
<rect x="55" y="117" width="342" height="1" fill="#000003" fill-opacity=".267"/>
<rect x="55" y="118" width="342" height="1" fill="#000003" fill-opacity=".988"/>
<rect x="55" y="119" width="342" height="1" fill="#000003" fill-opacity=".953"/>
<rect x="55" y="120" width="342" height="1" fill="#000003" fill-opacity=".157"/>
<rect x="55" y="146" width="342" height="1" fill="#000003" fill-opacity=".047"/>
<rect x="55" y="147" width="342" height="1" fill="#000003" fill-opacity=".843"/>
<rect x="55" y="148" width="342" height="1" fill="#000003" fill-opacity="1"/>
<rect x="55" y="149" width="342" height="1" fill="#000003" fill-opacity=".471"/>
<rect x="55" y="176" width="342" height="1" fill="#000003" fill-opacity=".525"/>
<rect x="55" y="177" width="342" height="1" fill="#000003" fill-opacity="1"/>
<rect x="55" y="178" width="342" height="1" fill="#000003" fill-opacity=".804"/>
<rect x="55" y="179" width="342" height="1" fill="#000003" fill-opacity=".031"/>
<rect x="55" y="205" width="342" height="1" fill="#000003" fill-opacity=".196"/>
<rect x="55" y="206" width="342" height="1" fill="#000003" fill-opacity=".973"/>
<rect x="55" y="207" width="342" height="1" fill="#000003" fill-opacity=".98"/>
<rect x="55" y="208" width="342" height="1" fill="#000003" fill-opacity=".22"/>
<rect x="55" y="234" width="342" height="1" fill="#000003" fill-opacity=".024"/>
<rect x="55" y="235" width="342" height="1" fill="#000003" fill-opacity=".776"/>
<rect x="55" y="236" width="342" height="1" fill="#000003" fill-opacity="1"/>
<rect x="55" y="237" width="342" height="1" fill="#000003" fill-opacity=".557"/>
<rect x="55" y="264" width="342" height="1" fill="#000003" fill-opacity=".439"/>
<rect x="55" y="265" width="342" height="1" fill="#000003" fill-opacity="1"/>
<rect x="55" y="266" width="342" height="1" fill="#000003" fill-opacity=".863"/>
<rect x="55" y="267" width="342" height="1" fill="#000003" fill-opacity=".059"/>
<rect x="55" y="293" width="342" height="1" fill="#000003" fill-opacity=".137"/>
<rect x="55" y="294" width="342" height="1" fill="#000003" fill-opacity=".941"/>
<rect x="55" y="295" width="342" height="1" fill="#000003" fill-opacity=".992"/>
<rect x="55" y="296" width="342" height="1" fill="#000003" fill-opacity=".294"/>
<rect x="55" y="322" width="342" height="1" fill="#000003" fill-opacity=".008"/>
<rect x="55" y="323" width="342" height="1" fill="#000003" fill-opacity=".706"/>
<rect x="55" y="324" width="342" height="1" fill="#000003" fill-opacity="1"/>
<rect x="55" y="325" width="342" height="1" fill="#000003" fill-opacity=".643"/>
<rect x="55" y="352" width="342" height="1" fill="#000003" fill-opacity=".353"/>
<rect x="55" y="353" width="342" height="1" fill="#000003" fill-opacity="1"/>
<rect x="55" y="354" width="342" height="1" fill="#000003" fill-opacity=".914"/>
<rect x="55" y="355" width="342" height="1" fill="#000003" fill-opacity=".098"/>
<rect x="122" y="32" width="1" height="350" fill="#000003" fill-opacity=".369"/>
<rect x="123" y="32" width="1" height="350" fill="#000003" fill-opacity=".608"/>
<rect x="190" y="32" width="1" height="350" fill="#000003" fill-opacity=".016"/>
<rect x="191" y="32" width="1" height="350" fill="#000003" fill-opacity=".745"/>
<rect x="192" y="32" width="1" height="350" fill="#000003" fill-opacity=".22"/>
<rect x="259" y="32" width="1" height="350" fill="#000003" fill-opacity=".204"/>
<rect x="260" y="32" width="1" height="350" fill="#000003" fill-opacity=".757"/>
<rect x="261" y="32" width="1" height="350" fill="#000003" fill-opacity=".02"/>
<rect x="328" y="32" width="1" height="350" fill="#000003" fill-opacity=".588"/>
<rect x="329" y="32" width="1" height="350" fill="#000003" fill-opacity=".388"/>
</g>
<rect x="55.5" y="32.5" width="341" height="350" fill="none" stroke="#000" stroke-width="1.11"/>
<rect x="50.5" y="35.945" width="4.5" height="1.11" fill="#000"/>
<rect x="50.5" y="104.945" width="4.5" height="1.11" fill="#000"/>
<rect x="50.5" y="173.945" width="4.5" height="1.11" fill="#000"/>
<rect x="50.5" y="243.945" width="4.5" height="1.11" fill="#000"/>
<rect x="50.5" y="312.945" width="4.5" height="1.11" fill="#000"/>
<rect x="50.5" y="381.945" width="4.5" height="1.11" fill="#000"/>
<rect x="54.945" y="383" width="1.11" height="4.5" fill="#000"/>
<rect x="123.945" y="383" width="1.11" height="4.5" fill="#000"/>
<rect x="192.945" y="383" width="1.11" height="4.5" fill="#000"/>
<rect x="262.945" y="383" width="1.11" height="4.5" fill="#000"/>
<rect x="331.945" y="383" width="1.11" height="4.5" fill="#000"/>
<text x="9.875 18.625 27.375 36.125" y="41.550">2500</text>
<text x="9.875 18.625 27.375 36.125" y="110.550">2000</text>
<text x="10.875 18.656 27.438 36.219" y="179.550">1500</text>
<text x="10.875 18.656 27.438 36.219" y="248.550">1000</text>
<text x="18.875 26.625 35.375" y="318.550">500</text>
<text x="36.875" y="387.550">0</text>
<text x="50.916" y="402.700">0</text>
<text x="110.919 118.669 127.419" y="402.700">500</text>
<text x="175.983 183.639 192.421 201.202" y="402.700">1000</text>
<text x="245.985 253.641 262.423 271.204" y="402.700">1500</text>
<text x="313.925 322.675 331.425 340.175" y="402.700">2000</text>
<text transform="translate(0 23.650) scale(1 1.07)" x="217.978 227.498" style="font-size:16.6667px">Si</text>
<g><rect x="478" y="32" width="342" height="350" fill="url(#g1)"/>
<rect x="478" y="58" width="342" height="1" fill="#000003" fill-opacity=".082"/>
<rect x="478" y="59" width="342" height="1" fill="#000003" fill-opacity=".898"/>
<rect x="478" y="60" width="342" height="1" fill="#000003" fill-opacity="1"/>
<rect x="478" y="61" width="342" height="1" fill="#000003" fill-opacity=".384"/>
<rect x="478" y="88" width="342" height="1" fill="#000003" fill-opacity=".612"/>
<rect x="478" y="89" width="342" height="1" fill="#000003" fill-opacity="1"/>
<rect x="478" y="90" width="342" height="1" fill="#000003" fill-opacity=".729"/>
<rect x="478" y="91" width="342" height="1" fill="#000003" fill-opacity=".016"/>
<rect x="478" y="117" width="342" height="1" fill="#000003" fill-opacity=".267"/>
<rect x="478" y="118" width="342" height="1" fill="#000003" fill-opacity=".988"/>
<rect x="478" y="119" width="342" height="1" fill="#000003" fill-opacity=".953"/>
<rect x="478" y="120" width="342" height="1" fill="#000003" fill-opacity=".157"/>
<rect x="478" y="146" width="342" height="1" fill="#000003" fill-opacity=".047"/>
<rect x="478" y="147" width="342" height="1" fill="#000003" fill-opacity=".843"/>
<rect x="478" y="148" width="342" height="1" fill="#000003" fill-opacity="1"/>
<rect x="478" y="149" width="342" height="1" fill="#000003" fill-opacity=".471"/>
<rect x="478" y="176" width="342" height="1" fill="#000003" fill-opacity=".525"/>
<rect x="478" y="177" width="342" height="1" fill="#000003" fill-opacity="1"/>
<rect x="478" y="178" width="342" height="1" fill="#000003" fill-opacity=".804"/>
<rect x="478" y="179" width="342" height="1" fill="#000003" fill-opacity=".031"/>
<rect x="478" y="205" width="342" height="1" fill="#000003" fill-opacity=".196"/>
<rect x="478" y="206" width="342" height="1" fill="#000003" fill-opacity=".973"/>
<rect x="478" y="207" width="342" height="1" fill="#000003" fill-opacity=".98"/>
<rect x="478" y="208" width="342" height="1" fill="#000003" fill-opacity=".22"/>
<rect x="478" y="234" width="342" height="1" fill="#000003" fill-opacity=".024"/>
<rect x="478" y="235" width="342" height="1" fill="#000003" fill-opacity=".776"/>
<rect x="478" y="236" width="342" height="1" fill="#000003" fill-opacity="1"/>
<rect x="478" y="237" width="342" height="1" fill="#000003" fill-opacity=".557"/>
<rect x="478" y="264" width="342" height="1" fill="#000003" fill-opacity=".439"/>
<rect x="478" y="265" width="342" height="1" fill="#000003" fill-opacity="1"/>
<rect x="478" y="266" width="342" height="1" fill="#000003" fill-opacity=".863"/>
<rect x="478" y="267" width="342" height="1" fill="#000003" fill-opacity=".059"/>
<rect x="478" y="293" width="342" height="1" fill="#000003" fill-opacity=".137"/>
<rect x="478" y="294" width="342" height="1" fill="#000003" fill-opacity=".941"/>
<rect x="478" y="295" width="342" height="1" fill="#000003" fill-opacity=".992"/>
<rect x="478" y="296" width="342" height="1" fill="#000003" fill-opacity=".294"/>
<rect x="478" y="322" width="342" height="1" fill="#000003" fill-opacity=".008"/>
<rect x="478" y="323" width="342" height="1" fill="#000003" fill-opacity=".706"/>
<rect x="478" y="324" width="342" height="1" fill="#000003" fill-opacity="1"/>
<rect x="478" y="325" width="342" height="1" fill="#000003" fill-opacity=".643"/>
<rect x="478" y="352" width="342" height="1" fill="#000003" fill-opacity=".353"/>
<rect x="478" y="353" width="342" height="1" fill="#000003" fill-opacity="1"/>
<rect x="478" y="354" width="342" height="1" fill="#000003" fill-opacity=".914"/>
<rect x="478" y="355" width="342" height="1" fill="#000003" fill-opacity=".098"/>
<rect x="545" y="32" width="1" height="350" fill="#000003" fill-opacity=".369"/>
<rect x="546" y="32" width="1" height="350" fill="#000003" fill-opacity=".608"/>
<rect x="613" y="32" width="1" height="350" fill="#000003" fill-opacity=".016"/>
<rect x="614" y="32" width="1" height="350" fill="#000003" fill-opacity=".745"/>
<rect x="615" y="32" width="1" height="350" fill="#000003" fill-opacity=".22"/>
<rect x="682" y="32" width="1" height="350" fill="#000003" fill-opacity=".204"/>
<rect x="683" y="32" width="1" height="350" fill="#000003" fill-opacity=".757"/>
<rect x="684" y="32" width="1" height="350" fill="#000003" fill-opacity=".02"/>
<rect x="751" y="32" width="1" height="350" fill="#000003" fill-opacity=".588"/>
<rect x="752" y="32" width="1" height="350" fill="#000003" fill-opacity=".388"/>
</g>
<rect x="478.5" y="32.5" width="341" height="350" fill="none" stroke="#000" stroke-width="1.11"/>
<rect x="473.5" y="35.945" width="4.5" height="1.11" fill="#000"/>
<rect x="473.5" y="104.945" width="4.5" height="1.11" fill="#000"/>
<rect x="473.5" y="173.945" width="4.5" height="1.11" fill="#000"/>
<rect x="473.5" y="243.945" width="4.5" height="1.11" fill="#000"/>
<rect x="473.5" y="312.945" width="4.5" height="1.11" fill="#000"/>
<rect x="473.5" y="381.945" width="4.5" height="1.11" fill="#000"/>
<rect x="477.945" y="383" width="1.11" height="4.5" fill="#000"/>
<rect x="546.945" y="383" width="1.11" height="4.5" fill="#000"/>
<rect x="615.945" y="383" width="1.11" height="4.5" fill="#000"/>
<rect x="684.945" y="383" width="1.11" height="4.5" fill="#000"/>
<rect x="754.945" y="383" width="1.11" height="4.5" fill="#000"/>
<text x="432.977 441.727 450.477 459.227" y="41.550">2500</text>
<text x="432.977 441.727 450.477 459.227" y="110.550">2000</text>
<text x="432.977 440.633 449.414 458.196" y="179.550">1500</text>
<text x="432.977 440.633 449.414 458.196" y="248.550">1000</text>
<text x="441.977 449.727 458.477" y="318.550">500</text>
<text x="459.977" y="387.550">0</text>
<text x="473.894" y="402.700">0</text>
<text x="533.896 541.646 550.396" y="402.700">500</text>
<text x="598.960 606.741 615.398 624.179" y="402.700">1000</text>
<text x="667.962 675.743 684.399 693.181" y="402.700">1500</text>
<text x="736.902 745.652 754.402 763.152" y="402.700">2000</text>
<text transform="translate(0 23.650) scale(1 1.07)" x="627.892 636.363 646.381 657.736" style="font-size:16.6667px">LaB6</text>
<g><rect x="55" y="452" width="342" height="350" fill="url(#g2)"/>
<rect x="55" y="478" width="342" height="1" fill="#000003" fill-opacity=".082"/>
<rect x="55" y="479" width="342" height="1" fill="#000003" fill-opacity=".898"/>
<rect x="55" y="480" width="342" height="1" fill="#000003" fill-opacity="1"/>
<rect x="55" y="481" width="342" height="1" fill="#000003" fill-opacity=".384"/>
<rect x="55" y="508" width="342" height="1" fill="#000003" fill-opacity=".612"/>
<rect x="55" y="509" width="342" height="1" fill="#000003" fill-opacity="1"/>
<rect x="55" y="510" width="342" height="1" fill="#000003" fill-opacity=".729"/>
<rect x="55" y="511" width="342" height="1" fill="#000003" fill-opacity=".016"/>
<rect x="55" y="537" width="342" height="1" fill="#000003" fill-opacity=".267"/>
<rect x="55" y="538" width="342" height="1" fill="#000003" fill-opacity=".988"/>
<rect x="55" y="539" width="342" height="1" fill="#000003" fill-opacity=".953"/>
<rect x="55" y="540" width="342" height="1" fill="#000003" fill-opacity=".157"/>
<rect x="55" y="566" width="342" height="1" fill="#000003" fill-opacity=".047"/>
<rect x="55" y="567" width="342" height="1" fill="#000003" fill-opacity=".843"/>
<rect x="55" y="568" width="342" height="1" fill="#000003" fill-opacity="1"/>
<rect x="55" y="569" width="342" height="1" fill="#000003" fill-opacity=".471"/>
<rect x="55" y="596" width="342" height="1" fill="#000003" fill-opacity=".525"/>
<rect x="55" y="597" width="342" height="1" fill="#000003" fill-opacity="1"/>
<rect x="55" y="598" width="342" height="1" fill="#000003" fill-opacity=".804"/>
<rect x="55" y="599" width="342" height="1" fill="#000003" fill-opacity=".031"/>
<rect x="55" y="625" width="342" height="1" fill="#000003" fill-opacity=".196"/>
<rect x="55" y="626" width="342" height="1" fill="#000003" fill-opacity=".973"/>
<rect x="55" y="627" width="342" height="1" fill="#000003" fill-opacity=".98"/>
<rect x="55" y="628" width="342" height="1" fill="#000003" fill-opacity=".22"/>
<rect x="55" y="654" width="342" height="1" fill="#000003" fill-opacity=".024"/>
<rect x="55" y="655" width="342" height="1" fill="#000003" fill-opacity=".776"/>
<rect x="55" y="656" width="342" height="1" fill="#000003" fill-opacity="1"/>
<rect x="55" y="657" width="342" height="1" fill="#000003" fill-opacity=".557"/>
<rect x="55" y="684" width="342" height="1" fill="#000003" fill-opacity=".439"/>
<rect x="55" y="685" width="342" height="1" fill="#000003" fill-opacity="1"/>
<rect x="55" y="686" width="342" height="1" fill="#000003" fill-opacity=".863"/>
<rect x="55" y="687" width="342" height="1" fill="#000003" fill-opacity=".059"/>
<rect x="55" y="713" width="342" height="1" fill="#000003" fill-opacity=".137"/>
<rect x="55" y="714" width="342" height="1" fill="#000003" fill-opacity=".941"/>
<rect x="55" y="715" width="342" height="1" fill="#000003" fill-opacity=".992"/>
<rect x="55" y="716" width="342" height="1" fill="#000003" fill-opacity=".294"/>
<rect x="55" y="742" width="342" height="1" fill="#000003" fill-opacity=".008"/>
<rect x="55" y="743" width="342" height="1" fill="#000003" fill-opacity=".706"/>
<rect x="55" y="744" width="342" height="1" fill="#000003" fill-opacity="1"/>
<rect x="55" y="745" width="342" height="1" fill="#000003" fill-opacity=".643"/>
<rect x="55" y="772" width="342" height="1" fill="#000003" fill-opacity=".353"/>
<rect x="55" y="773" width="342" height="1" fill="#000003" fill-opacity="1"/>
<rect x="55" y="774" width="342" height="1" fill="#000003" fill-opacity=".914"/>
<rect x="55" y="775" width="342" height="1" fill="#000003" fill-opacity=".098"/>
<rect x="122" y="452" width="1" height="350" fill="#000003" fill-opacity=".369"/>
<rect x="123" y="452" width="1" height="350" fill="#000003" fill-opacity=".608"/>
<rect x="190" y="452" width="1" height="350" fill="#000003" fill-opacity=".016"/>
<rect x="191" y="452" width="1" height="350" fill="#000003" fill-opacity=".745"/>
<rect x="192" y="452" width="1" height="350" fill="#000003" fill-opacity=".22"/>
<rect x="259" y="452" width="1" height="350" fill="#000003" fill-opacity=".204"/>
<rect x="260" y="452" width="1" height="350" fill="#000003" fill-opacity=".757"/>
<rect x="261" y="452" width="1" height="350" fill="#000003" fill-opacity=".02"/>
<rect x="328" y="452" width="1" height="350" fill="#000003" fill-opacity=".588"/>
<rect x="329" y="452" width="1" height="350" fill="#000003" fill-opacity=".388"/>
</g>
<rect x="55.5" y="452.5" width="341" height="350" fill="none" stroke="#000" stroke-width="1.11"/>
<rect x="50.5" y="455.945" width="4.5" height="1.11" fill="#000"/>
<rect x="50.5" y="524.945" width="4.5" height="1.11" fill="#000"/>
<rect x="50.5" y="593.945" width="4.5" height="1.11" fill="#000"/>
<rect x="50.5" y="663.945" width="4.5" height="1.11" fill="#000"/>
<rect x="50.5" y="732.945" width="4.5" height="1.11" fill="#000"/>
<rect x="50.5" y="801.945" width="4.5" height="1.11" fill="#000"/>
<rect x="54.945" y="803" width="1.11" height="4.5" fill="#000"/>
<rect x="123.945" y="803" width="1.11" height="4.5" fill="#000"/>
<rect x="192.945" y="803" width="1.11" height="4.5" fill="#000"/>
<rect x="262.945" y="803" width="1.11" height="4.5" fill="#000"/>
<rect x="331.945" y="803" width="1.11" height="4.5" fill="#000"/>
<text x="9.875 18.625 27.375 36.125" y="461.550">2500</text>
<text x="9.875 18.625 27.375 36.125" y="530.550">2000</text>
<text x="10.875 18.656 27.438 36.219" y="599.550">1500</text>
<text x="10.875 18.656 27.438 36.219" y="668.550">1000</text>
<text x="18.875 26.625 35.375" y="738.550">500</text>
<text x="36.875" y="807.550">0</text>
<text x="50.916" y="822.700">0</text>
<text x="110.919 118.669 127.419" y="822.700">500</text>
<text x="175.983 183.639 192.421 201.202" y="822.700">1000</text>
<text x="245.985 253.641 262.423 271.204" y="822.700">1500</text>
<text x="313.925 322.675 331.425 340.175" y="822.700">2000</text>
<text transform="translate(0 443.650) scale(1 1.07)" x="203.978 214.555 224.755 237.680" style="font-size:16.6667px">CeO2</text>
<g><rect x="478" y="452" width="342" height="350" fill="url(#g3)"/>
<rect x="478" y="478" width="342" height="1" fill="#000003" fill-opacity=".082"/>
<rect x="478" y="479" width="342" height="1" fill="#000003" fill-opacity=".898"/>
<rect x="478" y="480" width="342" height="1" fill="#000003" fill-opacity="1"/>
<rect x="478" y="481" width="342" height="1" fill="#000003" fill-opacity=".384"/>
<rect x="478" y="508" width="342" height="1" fill="#000003" fill-opacity=".612"/>
<rect x="478" y="509" width="342" height="1" fill="#000003" fill-opacity="1"/>
<rect x="478" y="510" width="342" height="1" fill="#000003" fill-opacity=".729"/>
<rect x="478" y="511" width="342" height="1" fill="#000003" fill-opacity=".016"/>
<rect x="478" y="537" width="342" height="1" fill="#000003" fill-opacity=".267"/>
<rect x="478" y="538" width="342" height="1" fill="#000003" fill-opacity=".988"/>
<rect x="478" y="539" width="342" height="1" fill="#000003" fill-opacity=".953"/>
<rect x="478" y="540" width="342" height="1" fill="#000003" fill-opacity=".157"/>
<rect x="478" y="566" width="342" height="1" fill="#000003" fill-opacity=".047"/>
<rect x="478" y="567" width="342" height="1" fill="#000003" fill-opacity=".843"/>
<rect x="478" y="568" width="342" height="1" fill="#000003" fill-opacity="1"/>
<rect x="478" y="569" width="342" height="1" fill="#000003" fill-opacity=".471"/>
<rect x="478" y="596" width="342" height="1" fill="#000003" fill-opacity=".525"/>
<rect x="478" y="597" width="342" height="1" fill="#000003" fill-opacity="1"/>
<rect x="478" y="598" width="342" height="1" fill="#000003" fill-opacity=".804"/>
<rect x="478" y="599" width="342" height="1" fill="#000003" fill-opacity=".031"/>
<rect x="478" y="625" width="342" height="1" fill="#000003" fill-opacity=".196"/>
<rect x="478" y="626" width="342" height="1" fill="#000003" fill-opacity=".973"/>
<rect x="478" y="627" width="342" height="1" fill="#000003" fill-opacity=".98"/>
<rect x="478" y="628" width="342" height="1" fill="#000003" fill-opacity=".22"/>
<rect x="478" y="654" width="342" height="1" fill="#000003" fill-opacity=".024"/>
<rect x="478" y="655" width="342" height="1" fill="#000003" fill-opacity=".776"/>
<rect x="478" y="656" width="342" height="1" fill="#000003" fill-opacity="1"/>
<rect x="478" y="657" width="342" height="1" fill="#000003" fill-opacity=".557"/>
<rect x="478" y="684" width="342" height="1" fill="#000003" fill-opacity=".439"/>
<rect x="478" y="685" width="342" height="1" fill="#000003" fill-opacity="1"/>
<rect x="478" y="686" width="342" height="1" fill="#000003" fill-opacity=".863"/>
<rect x="478" y="687" width="342" height="1" fill="#000003" fill-opacity=".059"/>
<rect x="478" y="713" width="342" height="1" fill="#000003" fill-opacity=".137"/>
<rect x="478" y="714" width="342" height="1" fill="#000003" fill-opacity=".941"/>
<rect x="478" y="715" width="342" height="1" fill="#000003" fill-opacity=".992"/>
<rect x="478" y="716" width="342" height="1" fill="#000003" fill-opacity=".294"/>
<rect x="478" y="742" width="342" height="1" fill="#000003" fill-opacity=".008"/>
<rect x="478" y="743" width="342" height="1" fill="#000003" fill-opacity=".706"/>
<rect x="478" y="744" width="342" height="1" fill="#000003" fill-opacity="1"/>
<rect x="478" y="745" width="342" height="1" fill="#000003" fill-opacity=".643"/>
<rect x="478" y="772" width="342" height="1" fill="#000003" fill-opacity=".353"/>
<rect x="478" y="773" width="342" height="1" fill="#000003" fill-opacity="1"/>
<rect x="478" y="774" width="342" height="1" fill="#000003" fill-opacity=".914"/>
<rect x="478" y="775" width="342" height="1" fill="#000003" fill-opacity=".098"/>
<rect x="545" y="452" width="1" height="350" fill="#000003" fill-opacity=".369"/>
<rect x="546" y="452" width="1" height="350" fill="#000003" fill-opacity=".608"/>
<rect x="613" y="452" width="1" height="350" fill="#000003" fill-opacity=".016"/>
<rect x="614" y="452" width="1" height="350" fill="#000003" fill-opacity=".745"/>
<rect x="615" y="452" width="1" height="350" fill="#000003" fill-opacity=".22"/>
<rect x="682" y="452" width="1" height="350" fill="#000003" fill-opacity=".204"/>
<rect x="683" y="452" width="1" height="350" fill="#000003" fill-opacity=".757"/>
<rect x="684" y="452" width="1" height="350" fill="#000003" fill-opacity=".02"/>
<rect x="751" y="452" width="1" height="350" fill="#000003" fill-opacity=".588"/>
<rect x="752" y="452" width="1" height="350" fill="#000003" fill-opacity=".388"/>
</g>
<rect x="478.5" y="452.5" width="341" height="350" fill="none" stroke="#000" stroke-width="1.11"/>
<rect x="473.5" y="455.945" width="4.5" height="1.11" fill="#000"/>
<rect x="473.5" y="524.945" width="4.5" height="1.11" fill="#000"/>
<rect x="473.5" y="593.945" width="4.5" height="1.11" fill="#000"/>
<rect x="473.5" y="663.945" width="4.5" height="1.11" fill="#000"/>
<rect x="473.5" y="732.945" width="4.5" height="1.11" fill="#000"/>
<rect x="473.5" y="801.945" width="4.5" height="1.11" fill="#000"/>
<rect x="477.945" y="803" width="1.11" height="4.5" fill="#000"/>
<rect x="546.945" y="803" width="1.11" height="4.5" fill="#000"/>
<rect x="615.945" y="803" width="1.11" height="4.5" fill="#000"/>
<rect x="684.945" y="803" width="1.11" height="4.5" fill="#000"/>
<rect x="754.945" y="803" width="1.11" height="4.5" fill="#000"/>
<text x="432.977 441.727 450.477 459.227" y="461.550">2500</text>
<text x="432.977 441.727 450.477 459.227" y="530.550">2000</text>
<text x="432.977 440.633 449.414 458.196" y="599.550">1500</text>
<text x="432.977 440.633 449.414 458.196" y="668.550">1000</text>
<text x="441.977 449.727 458.477" y="738.550">500</text>
<text x="459.977" y="807.550">0</text>
<text x="473.894" y="822.700">0</text>
<text x="533.896 541.646 550.396" y="822.700">500</text>
<text x="598.960 606.741 615.398 624.179" y="822.700">1000</text>
<text x="667.962 675.743 684.399 693.181" y="822.700">1500</text>
<text x="736.902 745.652 754.402 763.152" y="822.700">2000</text>
<text transform="translate(0 443.650) scale(1 1.07)" x="596.017 606.192 610.680 621.220 631.744 641.919 650.222 661.706 666.194 676.758 689.953" style="font-size:16.6667px">alpha_Al2O3</text>
</svg></body></html>
